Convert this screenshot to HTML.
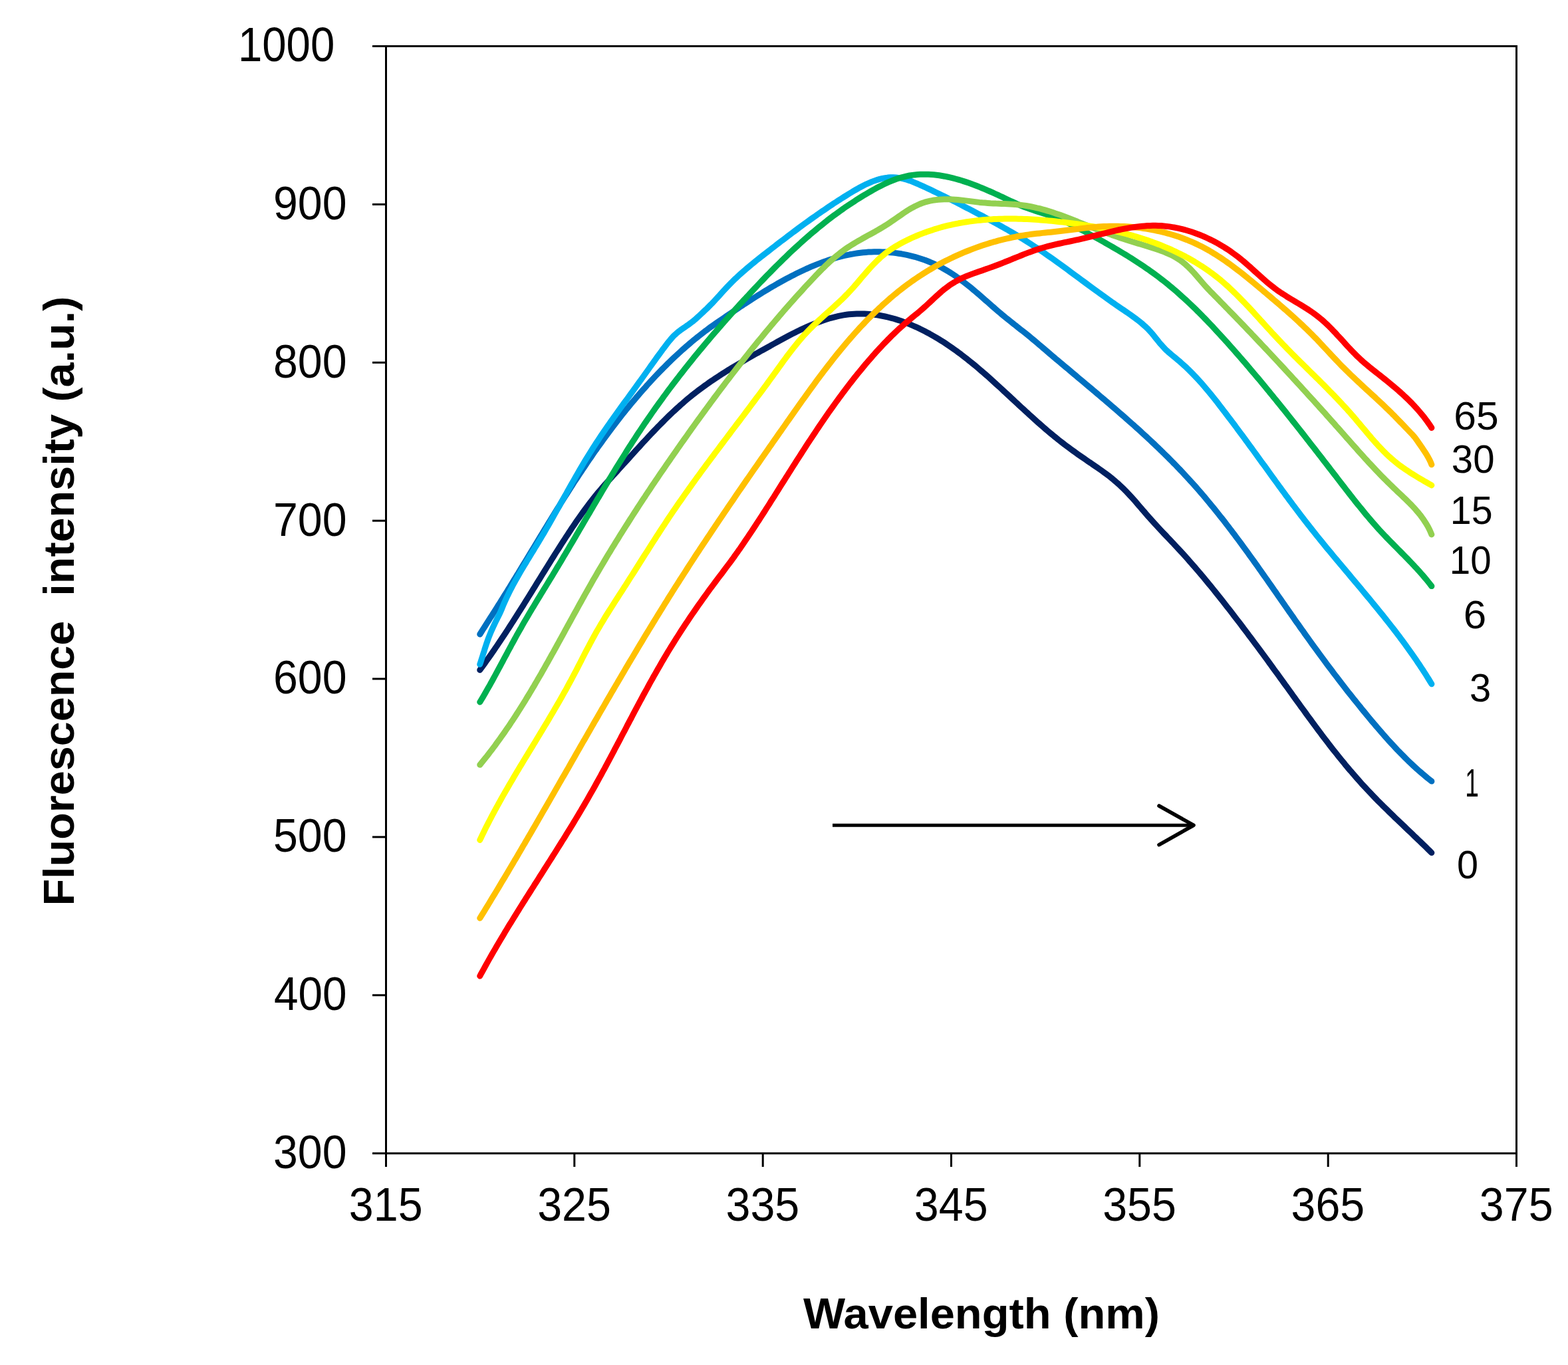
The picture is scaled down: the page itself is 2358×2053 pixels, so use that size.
<!DOCTYPE html>
<html><head><meta charset="utf-8"><title>Fluorescence intensity vs wavelength</title>
<style>html,body{margin:0;padding:0;background:#fff;}svg{display:block;}</style></head>
<body><svg width="2358" height="2053" viewBox="0 0 2358 2053" style="font-family:'Liberation Sans',Arial,Helvetica,sans-serif">
<rect width="2358" height="2053" fill="#fff"/>
<g fill="none" stroke-width="9" stroke-linecap="round" stroke-linejoin="round">
<path d="M721.7,1007.7 L724.1,1004.4 L726.5,1001.1 L728.9,997.8 L731.2,994.5 L733.6,991.2 L735.9,987.9 L738.2,984.6 L740.6,981.2 L742.9,977.9 L745.1,974.5 L747.4,971.2 L749.7,967.8 L751.9,964.5 L754.2,961.1 L756.4,957.7 L758.7,954.4 L760.9,951.0 L763.1,947.6 L765.3,944.2 L767.5,940.8 L769.7,937.4 L771.9,934.0 L774.0,930.6 L776.2,927.2 L778.4,923.8 L780.5,920.4 L782.7,917.0 L784.8,913.6 L787.0,910.2 L789.1,906.7 L791.2,903.3 L793.4,899.9 L795.5,896.5 L797.6,893.1 L799.8,889.6 L801.9,886.2 L804.0,882.8 L806.1,879.4 L808.2,875.9 L810.4,872.5 L812.5,869.1 L814.6,865.7 L816.7,862.2 L818.9,858.8 L821.0,855.4 L823.1,852.0 L825.2,848.6 L827.4,845.1 L829.5,841.7 L831.7,838.3 L833.8,834.9 L835.9,831.5 L838.1,828.1 L840.3,824.7 L842.4,821.3 L844.6,817.9 L846.8,814.5 L849.0,811.1 L851.1,807.8 L853.4,804.4 L855.6,801.0 L857.8,797.7 L860.0,794.3 L862.3,791.0 L864.5,787.7 L866.8,784.3 L869.1,781.0 L871.4,777.8 L873.7,774.5 L876.0,771.2 L878.4,768.0 L880.7,764.8 L883.1,761.6 L885.5,758.4 L887.9,755.2 L890.4,752.1 L892.8,749.0 L895.3,745.9 L897.8,742.8 L900.4,739.8 L902.9,736.8 L905.5,733.8 L908.1,730.8 L910.7,727.8 L913.4,724.9 L916.0,721.9 L918.7,719.0 L921.3,716.0 L924.0,713.1 L926.7,710.2 L929.3,707.2 L932.0,704.3 L934.7,701.3 L937.4,698.3 L940.1,695.4 L942.8,692.4 L945.5,689.4 L948.1,686.5 L950.8,683.5 L953.5,680.5 L956.2,677.5 L959.0,674.5 L961.7,671.6 L964.4,668.6 L967.1,665.6 L969.8,662.7 L972.6,659.7 L975.3,656.8 L978.1,653.8 L980.8,650.9 L983.6,648.0 L986.4,645.1 L989.2,642.2 L992.0,639.4 L994.8,636.5 L997.6,633.7 L1000.4,630.9 L1003.3,628.1 L1006.1,625.3 L1009.0,622.5 L1011.9,619.8 L1014.8,617.1 L1017.7,614.4 L1020.6,611.8 L1023.5,609.1 L1026.5,606.6 L1029.4,604.0 L1032.4,601.4 L1035.4,598.9 L1038.4,596.5 L1041.4,594.0 L1044.5,591.6 L1047.6,589.2 L1050.6,586.9 L1053.7,584.6 L1056.8,582.3 L1060.0,580.0 L1063.1,577.8 L1066.3,575.5 L1069.5,573.3 L1072.7,571.2 L1075.9,569.0 L1079.1,566.9 L1082.4,564.8 L1085.6,562.6 L1088.9,560.6 L1092.2,558.5 L1095.5,556.4 L1098.9,554.4 L1102.2,552.3 L1105.6,550.3 L1109.0,548.3 L1112.4,546.3 L1115.8,544.3 L1119.3,542.2 L1122.7,540.2 L1126.2,538.2 L1129.7,536.2 L1133.2,534.2 L1136.7,532.2 L1140.3,530.2 L1143.8,528.2 L1147.4,526.2 L1151.0,524.2 L1154.6,522.2 L1158.3,520.2 L1161.9,518.1 L1165.6,516.1 L1169.3,514.0 L1173.0,512.0 L1176.7,510.0 L1180.4,508.0 L1184.1,506.0 L1187.9,504.0 L1191.7,502.1 L1195.4,500.2 L1199.2,498.3 L1203.0,496.4 L1206.9,494.6 L1210.7,492.9 L1214.5,491.1 L1218.4,489.5 L1222.2,487.9 L1226.1,486.3 L1229.9,484.8 L1233.8,483.4 L1237.7,482.0 L1241.5,480.7 L1245.4,479.5 L1249.3,478.3 L1253.2,477.3 L1257.1,476.3 L1261.0,475.4 L1264.9,474.6 L1268.8,473.9 L1272.7,473.3 L1276.6,472.8 L1280.5,472.5 L1284.4,472.2 L1288.3,472.0 L1292.2,471.9 L1296.1,471.9 L1300.0,472.0 L1303.9,472.2 L1307.7,472.5 L1311.6,472.9 L1315.5,473.3 L1319.3,473.9 L1323.2,474.5 L1327.0,475.2 L1330.9,476.0 L1334.7,476.9 L1338.5,477.8 L1342.3,478.8 L1346.1,479.9 L1349.9,481.1 L1353.6,482.3 L1357.4,483.6 L1361.1,485.0 L1364.8,486.4 L1368.6,487.9 L1372.2,489.5 L1375.9,491.1 L1379.6,492.7 L1383.2,494.4 L1386.8,496.2 L1390.4,498.0 L1394.0,499.9 L1397.6,501.8 L1401.1,503.8 L1404.6,505.8 L1408.1,507.9 L1411.5,509.9 L1415.0,512.1 L1418.4,514.2 L1421.8,516.4 L1425.2,518.7 L1428.5,520.9 L1431.8,523.2 L1435.1,525.6 L1438.4,527.9 L1441.6,530.3 L1444.9,532.7 L1448.1,535.2 L1451.3,537.7 L1454.5,540.1 L1457.6,542.7 L1460.8,545.2 L1463.9,547.8 L1467.0,550.3 L1470.1,552.9 L1473.2,555.6 L1476.3,558.2 L1479.4,560.9 L1482.4,563.5 L1485.5,566.2 L1488.5,568.9 L1491.5,571.6 L1494.5,574.3 L1497.5,577.1 L1500.5,579.8 L1503.5,582.5 L1506.5,585.3 L1509.5,588.1 L1512.5,590.8 L1515.5,593.6 L1518.5,596.4 L1521.4,599.1 L1524.4,601.9 L1527.4,604.7 L1530.4,607.4 L1533.3,610.2 L1536.3,613.0 L1539.3,615.7 L1542.3,618.5 L1545.3,621.2 L1548.3,624.0 L1551.3,626.7 L1554.3,629.4 L1557.3,632.1 L1560.3,634.8 L1563.4,637.5 L1566.4,640.2 L1569.5,642.9 L1572.5,645.5 L1575.6,648.1 L1578.7,650.7 L1581.8,653.3 L1584.9,655.9 L1588.1,658.4 L1591.2,661.0 L1594.4,663.5 L1597.5,665.9 L1600.7,668.4 L1604.0,670.8 L1607.2,673.2 L1610.4,675.6 L1613.7,678.0 L1617.0,680.3 L1620.2,682.7 L1623.5,685.0 L1626.8,687.3 L1630.2,689.6 L1633.5,691.9 L1636.8,694.2 L1640.2,696.4 L1643.5,698.7 L1646.8,701.0 L1650.2,703.3 L1653.5,705.6 L1656.8,707.9 L1660.1,710.3 L1663.3,712.7 L1666.6,715.1 L1669.7,717.6 L1672.9,720.1 L1676.0,722.7 L1679.0,725.3 L1682.1,728.0 L1685.0,730.7 L1687.9,733.5 L1690.8,736.3 L1693.6,739.2 L1696.4,742.1 L1699.2,745.1 L1701.9,748.1 L1704.6,751.1 L1707.3,754.1 L1710.0,757.2 L1712.6,760.3 L1715.3,763.4 L1717.9,766.5 L1720.6,769.5 L1723.2,772.6 L1725.9,775.7 L1728.6,778.7 L1731.3,781.8 L1734.0,784.8 L1736.7,787.8 L1739.5,790.8 L1742.2,793.7 L1745.0,796.7 L1747.8,799.7 L1750.5,802.6 L1753.3,805.5 L1756.1,808.5 L1758.9,811.4 L1761.7,814.3 L1764.5,817.3 L1767.2,820.2 L1770.0,823.2 L1772.7,826.1 L1775.5,829.1 L1778.2,832.1 L1780.9,835.1 L1783.6,838.1 L1786.3,841.1 L1789.0,844.2 L1791.7,847.2 L1794.3,850.2 L1797.0,853.3 L1799.6,856.4 L1802.2,859.4 L1804.9,862.5 L1807.5,865.6 L1810.1,868.7 L1812.7,871.8 L1815.2,874.9 L1817.8,878.1 L1820.4,881.2 L1822.9,884.3 L1825.5,887.5 L1828.0,890.6 L1830.6,893.8 L1833.1,897.0 L1835.6,900.1 L1838.1,903.3 L1840.6,906.5 L1843.1,909.7 L1845.6,912.9 L1848.1,916.1 L1850.6,919.3 L1853.1,922.5 L1855.5,925.7 L1858.0,928.9 L1860.4,932.1 L1862.9,935.3 L1865.4,938.5 L1867.8,941.7 L1870.2,945.0 L1872.7,948.2 L1875.1,951.4 L1877.5,954.7 L1880.0,957.9 L1882.4,961.2 L1884.8,964.4 L1887.2,967.6 L1889.7,970.9 L1892.1,974.1 L1894.5,977.4 L1896.9,980.7 L1899.3,983.9 L1901.7,987.2 L1904.1,990.4 L1906.5,993.7 L1908.9,997.0 L1911.2,1000.2 L1913.6,1003.5 L1916.0,1006.8 L1918.4,1010.1 L1920.8,1013.3 L1923.2,1016.6 L1925.5,1019.9 L1927.9,1023.2 L1930.3,1026.5 L1932.7,1029.8 L1935.1,1033.0 L1937.4,1036.3 L1939.8,1039.6 L1942.2,1042.9 L1944.5,1046.2 L1946.9,1049.5 L1949.3,1052.8 L1951.7,1056.1 L1954.1,1059.4 L1956.4,1062.7 L1958.8,1065.9 L1961.2,1069.2 L1963.6,1072.5 L1966.0,1075.8 L1968.4,1079.1 L1970.8,1082.3 L1973.2,1085.6 L1975.6,1088.9 L1978.0,1092.1 L1980.4,1095.4 L1982.9,1098.7 L1985.3,1101.9 L1987.7,1105.2 L1990.2,1108.4 L1992.6,1111.6 L1995.1,1114.8 L1997.6,1118.1 L2000.0,1121.3 L2002.5,1124.5 L2005.0,1127.7 L2007.5,1130.8 L2010.1,1134.0 L2012.6,1137.2 L2015.1,1140.3 L2017.7,1143.5 L2020.3,1146.6 L2022.8,1149.8 L2025.4,1152.9 L2028.0,1156.0 L2030.6,1159.1 L2033.3,1162.1 L2035.9,1165.2 L2038.6,1168.3 L2041.2,1171.3 L2043.9,1174.3 L2046.6,1177.4 L2049.3,1180.4 L2052.1,1183.3 L2054.8,1186.3 L2057.6,1189.3 L2060.4,1192.2 L2063.2,1195.1 L2066.0,1198.1 L2068.8,1201.0 L2071.6,1203.9 L2074.5,1206.7 L2077.4,1209.6 L2080.2,1212.5 L2083.1,1215.3 L2086.0,1218.1 L2088.9,1221.0 L2091.8,1223.8 L2094.7,1226.6 L2097.6,1229.4 L2100.6,1232.2 L2103.5,1235.0 L2106.4,1237.8 L2109.3,1240.6 L2112.3,1243.4 L2115.2,1246.2 L2118.1,1249.0 L2121.1,1251.8 L2124.0,1254.6 L2126.9,1257.4 L2129.8,1260.1 L2132.7,1262.9 L2135.7,1265.7 L2138.5,1268.5 L2141.4,1271.3 L2144.3,1274.1 L2147.2,1276.9 L2150.1,1279.8 L2152.9,1282.6" stroke="#002060"/>
<path d="M721.7,954.0 L723.9,950.5 L726.0,947.1 L728.2,943.7 L730.4,940.3 L732.5,936.9 L734.7,933.5 L736.8,930.1 L739.0,926.8 L741.1,923.4 L743.2,920.1 L745.4,916.7 L747.5,913.3 L749.6,910.0 L751.8,906.6 L753.9,903.2 L756.0,899.8 L758.1,896.4 L760.2,893.0 L762.4,889.6 L764.5,886.2 L766.6,882.8 L768.7,879.3 L770.8,875.9 L772.9,872.4 L775.0,869.0 L777.1,865.5 L779.3,862.1 L781.4,858.6 L783.5,855.1 L785.6,851.6 L787.7,848.2 L789.8,844.7 L791.9,841.2 L794.0,837.7 L796.1,834.2 L798.2,830.7 L800.4,827.2 L802.5,823.7 L804.6,820.2 L806.7,816.7 L808.8,813.2 L810.9,809.7 L813.1,806.2 L815.2,802.7 L817.3,799.2 L819.5,795.7 L821.6,792.2 L823.7,788.7 L825.9,785.2 L828.0,781.7 L830.2,778.2 L832.3,774.7 L834.5,771.2 L836.6,767.7 L838.8,764.3 L841.0,760.8 L843.1,757.3 L845.3,753.8 L847.5,750.4 L849.7,746.9 L851.9,743.5 L854.1,740.0 L856.3,736.6 L858.5,733.1 L860.7,729.7 L862.9,726.2 L865.1,722.8 L867.4,719.4 L869.6,716.0 L871.9,712.6 L874.1,709.2 L876.4,705.8 L878.7,702.4 L881.0,699.0 L883.2,695.6 L885.5,692.2 L887.9,688.9 L890.2,685.5 L892.5,682.1 L894.8,678.8 L897.2,675.5 L899.5,672.1 L901.9,668.8 L904.3,665.5 L906.7,662.2 L909.1,658.9 L911.5,655.6 L913.9,652.3 L916.3,649.0 L918.8,645.7 L921.2,642.5 L923.7,639.2 L926.2,636.0 L928.7,632.8 L931.2,629.5 L933.7,626.3 L936.2,623.1 L938.8,619.9 L941.3,616.7 L943.9,613.6 L946.5,610.4 L949.1,607.2 L951.7,604.1 L954.4,601.0 L957.0,597.8 L959.7,594.7 L962.3,591.6 L965.0,588.5 L967.7,585.5 L970.5,582.4 L973.2,579.3 L976.0,576.3 L978.7,573.3 L981.5,570.3 L984.3,567.3 L987.1,564.3 L989.9,561.4 L992.8,558.4 L995.6,555.5 L998.5,552.6 L1001.4,549.7 L1004.3,546.8 L1007.2,544.0 L1010.2,541.1 L1013.1,538.3 L1016.1,535.5 L1019.1,532.7 L1022.1,530.0 L1025.1,527.2 L1028.2,524.5 L1031.2,521.8 L1034.3,519.2 L1037.4,516.5 L1040.5,513.9 L1043.6,511.3 L1046.8,508.8 L1049.9,506.2 L1053.1,503.7 L1056.3,501.2 L1059.5,498.7 L1062.8,496.3 L1066.0,493.9 L1069.3,491.5 L1072.6,489.2 L1076.0,486.8 L1079.3,484.5 L1082.6,482.2 L1086.0,479.9 L1089.3,477.6 L1092.7,475.3 L1096.1,473.0 L1099.5,470.7 L1102.8,468.5 L1106.2,466.2 L1109.6,463.9 L1113.0,461.6 L1116.4,459.4 L1119.8,457.1 L1123.3,454.9 L1126.7,452.7 L1130.1,450.4 L1133.6,448.2 L1137.1,446.0 L1140.5,443.9 L1144.0,441.7 L1147.5,439.5 L1151.0,437.4 L1154.5,435.3 L1158.0,433.2 L1161.5,431.1 L1165.1,429.1 L1168.6,427.0 L1172.2,425.0 L1175.8,423.0 L1179.4,421.0 L1183.0,419.1 L1186.6,417.2 L1190.2,415.3 L1193.9,413.4 L1197.5,411.6 L1201.2,409.8 L1204.9,408.0 L1208.6,406.2 L1212.3,404.5 L1216.0,402.9 L1219.8,401.2 L1223.6,399.6 L1227.3,398.1 L1231.1,396.6 L1234.9,395.2 L1238.7,393.8 L1242.6,392.4 L1246.4,391.1 L1250.3,389.9 L1254.2,388.7 L1258.1,387.5 L1262.0,386.5 L1265.9,385.5 L1269.9,384.5 L1273.8,383.6 L1277.8,382.8 L1281.8,382.1 L1285.8,381.4 L1289.8,380.8 L1293.9,380.3 L1297.9,379.8 L1302.0,379.4 L1306.1,379.1 L1310.2,378.9 L1314.3,378.8 L1318.5,378.7 L1322.6,378.8 L1326.8,378.9 L1330.9,379.1 L1335.1,379.3 L1339.2,379.7 L1343.3,380.1 L1347.4,380.6 L1351.5,381.2 L1355.6,381.8 L1359.7,382.6 L1363.7,383.4 L1367.7,384.3 L1371.7,385.3 L1375.7,386.3 L1379.6,387.5 L1383.5,388.7 L1387.4,390.0 L1391.2,391.3 L1395.0,392.8 L1398.8,394.3 L1402.5,395.9 L1406.2,397.6 L1409.9,399.3 L1413.5,401.1 L1417.1,403.0 L1420.6,405.0 L1424.1,407.0 L1427.6,409.1 L1431.0,411.3 L1434.4,413.5 L1437.8,415.8 L1441.1,418.2 L1444.4,420.6 L1447.7,423.0 L1450.9,425.5 L1454.1,428.0 L1457.3,430.5 L1460.5,433.1 L1463.6,435.7 L1466.8,438.4 L1469.9,441.0 L1473.0,443.7 L1476.1,446.4 L1479.2,449.1 L1482.2,451.8 L1485.3,454.4 L1488.4,457.1 L1491.4,459.8 L1494.5,462.5 L1497.5,465.1 L1500.6,467.8 L1503.7,470.4 L1506.7,473.0 L1509.8,475.5 L1512.9,478.1 L1516.0,480.6 L1519.1,483.0 L1522.2,485.5 L1525.3,488.0 L1528.5,490.4 L1531.6,492.9 L1534.7,495.4 L1537.8,497.8 L1541.0,500.3 L1544.1,502.8 L1547.2,505.3 L1550.3,507.9 L1553.4,510.5 L1556.5,513.0 L1559.6,515.6 L1562.7,518.3 L1565.8,520.9 L1568.8,523.5 L1571.9,526.2 L1575.0,528.8 L1578.1,531.5 L1581.2,534.1 L1584.3,536.7 L1587.4,539.4 L1590.6,542.0 L1593.7,544.6 L1596.8,547.2 L1599.9,549.9 L1603.0,552.5 L1606.2,555.1 L1609.3,557.7 L1612.4,560.4 L1615.5,563.0 L1618.7,565.6 L1621.8,568.3 L1624.9,570.9 L1628.1,573.5 L1631.2,576.1 L1634.3,578.8 L1637.5,581.4 L1640.6,584.0 L1643.7,586.7 L1646.9,589.3 L1650.0,592.0 L1653.1,594.6 L1656.2,597.3 L1659.4,599.9 L1662.5,602.6 L1665.6,605.2 L1668.7,607.9 L1671.8,610.6 L1674.9,613.2 L1678.0,615.9 L1681.1,618.6 L1684.2,621.3 L1687.3,624.0 L1690.4,626.7 L1693.4,629.4 L1696.5,632.1 L1699.6,634.8 L1702.6,637.5 L1705.7,640.2 L1708.7,643.0 L1711.8,645.7 L1714.8,648.4 L1717.8,651.2 L1720.8,654.0 L1723.8,656.7 L1726.8,659.5 L1729.8,662.3 L1732.8,665.1 L1735.8,667.9 L1738.7,670.7 L1741.7,673.5 L1744.6,676.4 L1747.6,679.2 L1750.5,682.1 L1753.4,684.9 L1756.3,687.8 L1759.2,690.7 L1762.1,693.6 L1764.9,696.5 L1767.8,699.4 L1770.6,702.3 L1773.4,705.3 L1776.3,708.2 L1779.1,711.2 L1781.8,714.2 L1784.6,717.2 L1787.4,720.2 L1790.1,723.2 L1792.9,726.2 L1795.6,729.2 L1798.3,732.3 L1801.0,735.4 L1803.6,738.4 L1806.3,741.5 L1809.0,744.6 L1811.6,747.7 L1814.2,750.8 L1816.8,754.0 L1819.4,757.1 L1822.0,760.3 L1824.6,763.4 L1827.2,766.6 L1829.7,769.8 L1832.3,773.0 L1834.8,776.2 L1837.4,779.4 L1839.9,782.6 L1842.4,785.8 L1844.9,789.1 L1847.4,792.3 L1849.9,795.6 L1852.4,798.8 L1854.8,802.1 L1857.3,805.3 L1859.7,808.6 L1862.2,811.9 L1864.6,815.2 L1867.1,818.5 L1869.5,821.8 L1871.9,825.1 L1874.3,828.4 L1876.7,831.7 L1879.1,835.1 L1881.5,838.4 L1883.9,841.7 L1886.3,845.0 L1888.7,848.4 L1891.1,851.7 L1893.4,855.1 L1895.8,858.4 L1898.2,861.8 L1900.5,865.1 L1902.9,868.5 L1905.3,871.8 L1907.6,875.2 L1910.0,878.6 L1912.3,881.9 L1914.7,885.3 L1917.0,888.7 L1919.4,892.0 L1921.7,895.4 L1924.1,898.8 L1926.4,902.1 L1928.7,905.5 L1931.1,908.9 L1933.4,912.2 L1935.8,915.6 L1938.1,919.0 L1940.5,922.3 L1942.8,925.7 L1945.2,929.0 L1947.5,932.4 L1949.9,935.8 L1952.3,939.1 L1954.6,942.5 L1957.0,945.8 L1959.4,949.1 L1961.7,952.5 L1964.1,955.8 L1966.5,959.1 L1968.9,962.5 L1971.3,965.8 L1973.6,969.1 L1976.0,972.4 L1978.4,975.7 L1980.9,979.0 L1983.3,982.3 L1985.7,985.6 L1988.1,988.9 L1990.5,992.2 L1993.0,995.5 L1995.4,998.8 L1997.8,1002.0 L2000.3,1005.3 L2002.8,1008.5 L2005.2,1011.8 L2007.7,1015.1 L2010.2,1018.3 L2012.6,1021.5 L2015.1,1024.8 L2017.6,1028.0 L2020.1,1031.2 L2022.6,1034.4 L2025.1,1037.7 L2027.6,1040.9 L2030.2,1044.1 L2032.7,1047.3 L2035.2,1050.5 L2037.8,1053.7 L2040.3,1056.8 L2042.9,1060.0 L2045.5,1063.2 L2048.0,1066.4 L2050.6,1069.5 L2053.2,1072.7 L2055.8,1075.8 L2058.4,1079.0 L2061.0,1082.1 L2063.6,1085.3 L2066.3,1088.4 L2068.9,1091.5 L2071.6,1094.6 L2074.2,1097.7 L2076.9,1100.8 L2079.6,1103.9 L2082.3,1107.0 L2085.0,1110.0 L2087.7,1113.1 L2090.5,1116.1 L2093.3,1119.1 L2096.0,1122.1 L2098.8,1125.1 L2101.6,1128.1 L2104.5,1131.0 L2107.3,1133.9 L2110.2,1136.8 L2113.1,1139.7 L2116.0,1142.6 L2118.9,1145.4 L2121.9,1148.3 L2124.9,1151.1 L2127.9,1153.8 L2130.9,1156.6 L2134.0,1159.3 L2137.1,1162.0 L2140.2,1164.7 L2143.3,1167.3 L2146.5,1170.0 L2149.7,1172.5 L2152.9,1175.1" stroke="#0070C0"/>
<path d="M721.7,999.2 L723.1,995.0 L724.4,990.9 L725.7,986.8 L726.9,982.8 L728.2,978.8 L729.4,974.8 L730.7,970.9 L732.0,966.9 L733.4,962.9 L734.9,958.8 L736.5,954.8 L738.2,950.6 L740.1,946.4 L742.0,942.2 L743.8,938.3 L745.6,934.6 L747.2,931.4 L748.6,928.5 L750.0,925.9 L751.3,923.2 L752.6,920.3 L754.1,917.0 L755.5,913.4 L757.1,909.6 L758.7,905.9 L760.4,902.2 L762.1,898.4 L763.9,894.7 L765.7,891.0 L767.6,887.3 L769.6,883.6 L771.5,879.8 L773.6,876.1 L775.6,872.4 L777.7,868.7 L779.8,865.0 L782.0,861.3 L784.1,857.6 L786.3,853.9 L788.5,850.2 L790.8,846.5 L793.0,842.8 L795.3,839.1 L797.5,835.4 L799.8,831.7 L802.1,828.0 L804.3,824.3 L806.6,820.6 L808.8,816.9 L811.1,813.2 L813.3,809.5 L815.5,805.8 L817.7,802.1 L819.9,798.3 L822.0,794.6 L824.2,790.9 L826.3,787.2 L828.4,783.5 L830.5,779.7 L832.6,776.0 L834.7,772.3 L836.8,768.6 L838.9,764.9 L841.0,761.2 L843.1,757.4 L845.1,753.7 L847.2,750.0 L849.3,746.3 L851.4,742.6 L853.4,738.9 L855.5,735.2 L857.6,731.5 L859.7,727.8 L861.8,724.1 L863.9,720.5 L866.0,716.8 L868.1,713.1 L870.2,709.4 L872.3,705.8 L874.5,702.1 L876.6,698.5 L878.8,694.8 L881.0,691.2 L883.2,687.6 L885.4,684.0 L887.7,680.4 L889.9,676.8 L892.2,673.2 L894.5,669.6 L896.8,666.0 L899.2,662.4 L901.5,658.9 L903.9,655.3 L906.3,651.8 L908.7,648.2 L911.1,644.7 L913.6,641.2 L916.0,637.7 L918.5,634.2 L921.0,630.7 L923.5,627.2 L926.0,623.7 L928.5,620.2 L931.0,616.7 L933.5,613.2 L936.0,609.7 L938.5,606.2 L941.1,602.7 L943.6,599.3 L946.1,595.8 L948.7,592.3 L951.2,588.8 L953.7,585.3 L956.2,581.9 L958.7,578.4 L961.2,574.9 L963.8,571.4 L966.2,568.0 L968.7,564.5 L971.2,561.0 L973.7,557.5 L976.2,554.0 L978.6,550.5 L981.1,547.1 L983.6,543.6 L986.1,540.1 L988.5,536.7 L991.1,533.2 L993.6,529.8 L996.1,526.3 L998.7,522.9 L1001.3,519.5 L1003.9,516.1 L1006.5,512.8 L1009.3,509.5 L1012.1,506.3 L1015.2,503.3 L1018.3,500.5 L1021.7,497.8 L1025.2,495.2 L1028.8,492.8 L1032.3,490.3 L1035.9,487.9 L1039.3,485.3 L1042.6,482.8 L1045.8,480.1 L1048.8,477.4 L1051.7,474.7 L1054.6,472.0 L1057.4,469.4 L1060.1,466.8 L1062.9,464.2 L1065.6,461.5 L1068.3,458.8 L1071.0,456.1 L1073.7,453.2 L1076.4,450.3 L1079.1,447.4 L1081.8,444.4 L1084.6,441.3 L1087.3,438.3 L1090.1,435.2 L1093.0,432.1 L1095.9,429.1 L1098.8,426.1 L1101.8,423.1 L1104.9,420.1 L1108.0,417.2 L1111.1,414.3 L1114.3,411.4 L1117.5,408.6 L1120.7,405.8 L1124.0,402.9 L1127.3,400.2 L1130.7,397.4 L1134.0,394.7 L1137.4,391.9 L1140.8,389.2 L1144.2,386.5 L1147.6,383.9 L1151.0,381.2 L1154.4,378.6 L1157.8,375.9 L1161.2,373.3 L1164.6,370.7 L1168.0,368.0 L1171.4,365.4 L1174.8,362.8 L1178.2,360.3 L1181.6,357.7 L1184.9,355.1 L1188.3,352.6 L1191.7,350.0 L1195.1,347.5 L1198.5,345.0 L1201.9,342.4 L1205.3,339.9 L1208.7,337.4 L1212.2,334.9 L1215.6,332.5 L1219.0,330.0 L1222.5,327.5 L1226.0,325.1 L1229.4,322.6 L1232.9,320.2 L1236.4,317.8 L1240.0,315.4 L1243.5,313.0 L1247.1,310.6 L1250.6,308.2 L1254.2,305.8 L1257.9,303.5 L1261.5,301.1 L1265.2,298.8 L1268.9,296.4 L1272.6,294.1 L1276.3,291.8 L1280.1,289.5 L1283.9,287.2 L1287.7,285.0 L1291.5,282.8 L1295.4,280.7 L1299.2,278.7 L1303.1,276.8 L1307.1,275.1 L1311.0,273.4 L1315.0,271.9 L1318.9,270.6 L1322.9,269.4 L1326.9,268.4 L1331.0,267.7 L1335.0,267.1 L1339.1,266.8 L1343.1,266.8 L1347.2,267.0 L1351.3,267.4 L1355.4,268.2 L1359.5,269.1 L1363.6,270.3 L1367.7,271.6 L1371.8,273.1 L1375.9,274.8 L1380.0,276.5 L1384.0,278.3 L1388.1,280.1 L1392.1,282.0 L1396.1,283.9 L1400.0,285.7 L1403.9,287.6 L1407.8,289.5 L1411.7,291.4 L1415.6,293.3 L1419.5,295.1 L1423.3,297.0 L1427.1,298.9 L1430.9,300.8 L1434.7,302.7 L1438.5,304.6 L1442.2,306.6 L1446.0,308.5 L1449.7,310.4 L1453.5,312.4 L1457.2,314.3 L1461.0,316.2 L1464.7,318.2 L1468.4,320.2 L1472.2,322.2 L1475.9,324.1 L1479.7,326.1 L1483.4,328.2 L1487.2,330.2 L1491.0,332.2 L1494.7,334.3 L1498.5,336.3 L1502.2,338.4 L1506.0,340.5 L1509.7,342.6 L1513.5,344.7 L1517.2,346.9 L1520.9,349.0 L1524.7,351.2 L1528.4,353.4 L1532.1,355.6 L1535.7,357.9 L1539.4,360.1 L1543.0,362.4 L1546.6,364.7 L1550.2,367.0 L1553.8,369.4 L1557.4,371.7 L1561.0,374.1 L1564.5,376.5 L1568.0,378.9 L1571.6,381.3 L1575.1,383.8 L1578.6,386.2 L1582.1,388.7 L1585.6,391.2 L1589.0,393.7 L1592.5,396.2 L1596.0,398.7 L1599.4,401.2 L1602.9,403.7 L1606.3,406.2 L1609.8,408.8 L1613.2,411.3 L1616.6,413.8 L1620.1,416.4 L1623.5,418.9 L1626.9,421.5 L1630.4,424.0 L1633.8,426.5 L1637.3,429.1 L1640.7,431.6 L1644.1,434.1 L1647.6,436.7 L1651.1,439.2 L1654.5,441.7 L1658.0,444.2 L1661.5,446.7 L1664.9,449.2 L1668.4,451.7 L1671.9,454.2 L1675.5,456.6 L1679.0,459.1 L1682.5,461.5 L1686.1,463.9 L1689.6,466.3 L1693.2,468.7 L1696.7,471.1 L1700.3,473.6 L1703.7,476.1 L1707.2,478.6 L1710.6,481.2 L1713.9,483.8 L1717.2,486.5 L1720.4,489.3 L1723.6,492.2 L1726.6,495.1 L1729.5,498.2 L1732.3,501.4 L1735.0,504.7 L1737.7,508.1 L1740.4,511.4 L1743.1,514.8 L1745.9,518.1 L1748.8,521.3 L1751.7,524.4 L1754.8,527.4 L1758.0,530.3 L1761.3,533.1 L1764.6,535.9 L1767.9,538.6 L1771.2,541.4 L1774.5,544.1 L1777.7,547.0 L1780.9,549.8 L1784.1,552.7 L1787.2,555.7 L1790.2,558.7 L1793.2,561.7 L1796.2,564.8 L1799.1,567.9 L1802.0,571.0 L1804.9,574.2 L1807.7,577.3 L1810.5,580.6 L1813.2,583.8 L1816.0,587.1 L1818.7,590.3 L1821.4,593.6 L1824.1,597.0 L1826.7,600.3 L1829.4,603.6 L1832.0,607.0 L1834.6,610.4 L1837.2,613.8 L1839.8,617.2 L1842.4,620.5 L1845.0,624.0 L1847.6,627.4 L1850.2,630.8 L1852.7,634.2 L1855.3,637.6 L1857.9,641.0 L1860.4,644.5 L1863.0,647.9 L1865.5,651.3 L1868.1,654.8 L1870.6,658.2 L1873.2,661.7 L1875.7,665.1 L1878.2,668.6 L1880.7,672.1 L1883.3,675.5 L1885.8,679.0 L1888.3,682.4 L1890.8,685.9 L1893.3,689.4 L1895.8,692.8 L1898.3,696.3 L1900.9,699.7 L1903.4,703.2 L1905.9,706.7 L1908.4,710.1 L1910.9,713.6 L1913.4,717.1 L1915.9,720.5 L1918.4,724.0 L1920.9,727.4 L1923.4,730.9 L1926.0,734.3 L1928.5,737.8 L1931.0,741.2 L1933.5,744.7 L1936.1,748.1 L1938.6,751.5 L1941.2,754.9 L1943.7,758.4 L1946.3,761.8 L1948.8,765.2 L1951.4,768.6 L1954.0,772.0 L1956.6,775.4 L1959.2,778.8 L1961.8,782.2 L1964.4,785.6 L1967.0,788.9 L1969.7,792.3 L1972.3,795.6 L1975.0,799.0 L1977.6,802.3 L1980.3,805.7 L1983.0,809.0 L1985.7,812.3 L1988.4,815.6 L1991.1,819.0 L1993.8,822.3 L1996.5,825.6 L1999.3,828.9 L2002.0,832.2 L2004.7,835.5 L2007.5,838.8 L2010.2,842.0 L2013.0,845.3 L2015.7,848.6 L2018.5,851.9 L2021.2,855.2 L2024.0,858.5 L2026.7,861.7 L2029.5,865.0 L2032.2,868.3 L2035.0,871.6 L2037.7,874.9 L2040.5,878.2 L2043.2,881.4 L2046.0,884.7 L2048.7,888.0 L2051.5,891.3 L2054.2,894.6 L2056.9,897.9 L2059.7,901.2 L2062.4,904.5 L2065.1,907.8 L2067.8,911.1 L2070.5,914.4 L2073.2,917.8 L2075.9,921.1 L2078.6,924.4 L2081.3,927.8 L2083.9,931.1 L2086.6,934.5 L2089.2,937.8 L2091.9,941.2 L2094.5,944.6 L2097.1,947.9 L2099.7,951.3 L2102.3,954.7 L2104.9,958.1 L2107.4,961.6 L2110.0,965.0 L2112.5,968.4 L2115.0,971.9 L2117.5,975.3 L2120.0,978.8 L2122.5,982.3 L2124.9,985.8 L2127.4,989.3 L2129.8,992.8 L2132.2,996.4 L2134.6,999.9 L2136.9,1003.5 L2139.3,1007.0 L2141.6,1010.6 L2143.9,1014.2 L2146.2,1017.8 L2148.5,1021.5 L2150.7,1025.1 L2152.9,1028.8" stroke="#00B0F0"/>
<path d="M721.7,1056.0 L723.8,1052.5 L726.0,1048.9 L728.1,1045.3 L730.1,1041.7 L732.2,1038.1 L734.2,1034.5 L736.3,1030.9 L738.3,1027.3 L740.3,1023.7 L742.3,1020.0 L744.3,1016.4 L746.3,1012.7 L748.2,1009.1 L750.2,1005.4 L752.2,1001.8 L754.1,998.1 L756.1,994.5 L758.0,990.8 L760.0,987.1 L762.0,983.5 L763.9,979.8 L765.9,976.1 L767.9,972.5 L769.8,968.8 L771.8,965.2 L773.8,961.5 L775.8,957.9 L777.8,954.2 L779.9,950.6 L781.9,947.0 L784.0,943.4 L786.0,939.7 L788.1,936.1 L790.2,932.5 L792.3,928.9 L794.4,925.4 L796.5,921.8 L798.7,918.2 L800.8,914.6 L803.0,911.1 L805.1,907.5 L807.3,903.9 L809.4,900.4 L811.6,896.8 L813.8,893.2 L816.0,889.7 L818.1,886.1 L820.3,882.6 L822.5,879.0 L824.7,875.4 L826.8,871.9 L829.0,868.3 L831.2,864.8 L833.3,861.2 L835.5,857.6 L837.6,854.0 L839.8,850.5 L841.9,846.9 L844.1,843.3 L846.2,839.7 L848.3,836.1 L850.5,832.6 L852.6,829.0 L854.7,825.4 L856.8,821.8 L858.9,818.2 L861.1,814.6 L863.2,811.0 L865.3,807.4 L867.4,803.8 L869.5,800.2 L871.6,796.6 L873.7,793.0 L875.8,789.4 L877.9,785.8 L880.0,782.2 L882.1,778.6 L884.3,775.0 L886.4,771.4 L888.5,767.8 L890.6,764.2 L892.7,760.6 L894.8,757.0 L896.9,753.4 L899.0,749.8 L901.2,746.3 L903.3,742.7 L905.4,739.1 L907.5,735.5 L909.7,731.9 L911.8,728.4 L914.0,724.8 L916.1,721.2 L918.3,717.7 L920.4,714.1 L922.6,710.5 L924.7,707.0 L926.9,703.4 L929.1,699.9 L931.3,696.4 L933.5,692.8 L935.7,689.3 L937.9,685.8 L940.1,682.3 L942.3,678.7 L944.5,675.2 L946.7,671.7 L949.0,668.2 L951.2,664.7 L953.5,661.3 L955.7,657.8 L958.0,654.3 L960.3,650.8 L962.6,647.4 L964.9,643.9 L967.2,640.5 L969.5,637.1 L971.9,633.6 L974.2,630.2 L976.6,626.8 L978.9,623.4 L981.3,620.0 L983.7,616.6 L986.1,613.2 L988.5,609.8 L990.9,606.5 L993.4,603.1 L995.8,599.8 L998.2,596.4 L1000.7,593.1 L1003.2,589.7 L1005.6,586.4 L1008.1,583.1 L1010.6,579.8 L1013.1,576.5 L1015.6,573.2 L1018.2,569.9 L1020.7,566.6 L1023.2,563.3 L1025.8,560.1 L1028.4,556.8 L1030.9,553.5 L1033.5,550.3 L1036.1,547.0 L1038.7,543.8 L1041.3,540.6 L1043.9,537.3 L1046.5,534.1 L1049.2,530.9 L1051.8,527.7 L1054.5,524.5 L1057.1,521.3 L1059.8,518.1 L1062.5,514.9 L1065.1,511.8 L1067.8,508.6 L1070.5,505.4 L1073.2,502.3 L1076.0,499.1 L1078.7,496.0 L1081.4,492.8 L1084.1,489.7 L1086.9,486.6 L1089.6,483.4 L1092.4,480.3 L1095.2,477.2 L1097.9,474.1 L1100.7,471.0 L1103.5,467.9 L1106.3,464.8 L1109.1,461.7 L1111.9,458.6 L1114.7,455.5 L1117.5,452.4 L1120.4,449.4 L1123.2,446.3 L1126.1,443.3 L1128.9,440.2 L1131.8,437.1 L1134.6,434.1 L1137.5,431.1 L1140.4,428.0 L1143.2,425.0 L1146.1,422.0 L1149.0,419.0 L1151.9,415.9 L1154.8,412.9 L1157.8,410.0 L1160.7,407.0 L1163.6,404.0 L1166.6,401.0 L1169.5,398.1 L1172.5,395.2 L1175.5,392.2 L1178.5,389.3 L1181.5,386.4 L1184.5,383.5 L1187.5,380.6 L1190.5,377.8 L1193.6,374.9 L1196.6,372.1 L1199.7,369.3 L1202.8,366.5 L1205.9,363.7 L1209.0,360.9 L1212.1,358.2 L1215.2,355.5 L1218.4,352.7 L1221.5,350.0 L1224.7,347.4 L1227.9,344.7 L1231.1,342.1 L1234.3,339.5 L1237.5,336.9 L1240.8,334.3 L1244.0,331.7 L1247.3,329.2 L1250.6,326.7 L1253.9,324.2 L1257.2,321.8 L1260.6,319.3 L1264.0,316.9 L1267.3,314.5 L1270.7,312.1 L1274.2,309.8 L1277.6,307.5 L1281.1,305.2 L1284.6,302.9 L1288.1,300.6 L1291.6,298.4 L1295.2,296.1 L1298.8,293.9 L1302.4,291.8 L1306.1,289.6 L1309.8,287.5 L1313.5,285.4 L1317.2,283.3 L1321.0,281.3 L1324.7,279.4 L1328.5,277.5 L1332.4,275.7 L1336.2,273.9 L1340.1,272.3 L1344.0,270.8 L1347.9,269.3 L1351.8,268.0 L1355.8,266.8 L1359.8,265.8 L1363.7,264.8 L1367.7,264.0 L1371.8,263.4 L1375.8,262.9 L1379.8,262.5 L1383.9,262.3 L1387.9,262.2 L1392.0,262.2 L1396.1,262.3 L1400.2,262.5 L1404.3,262.8 L1408.4,263.3 L1412.5,263.8 L1416.6,264.5 L1420.7,265.2 L1424.7,266.0 L1428.8,266.9 L1432.9,267.9 L1437.0,269.0 L1441.1,270.1 L1445.1,271.3 L1449.2,272.6 L1453.2,273.9 L1457.3,275.3 L1461.3,276.8 L1465.3,278.2 L1469.3,279.8 L1473.3,281.4 L1477.2,283.0 L1481.2,284.6 L1485.1,286.3 L1489.0,288.0 L1492.8,289.7 L1496.7,291.5 L1500.5,293.2 L1504.3,295.0 L1508.0,296.7 L1511.8,298.5 L1515.5,300.3 L1519.2,302.0 L1522.9,303.7 L1526.6,305.4 L1530.3,307.1 L1534.0,308.7 L1537.8,310.2 L1541.6,311.7 L1545.4,313.1 L1549.3,314.5 L1553.2,315.8 L1557.2,317.1 L1561.1,318.4 L1565.1,319.7 L1569.0,320.9 L1573.0,322.2 L1577.0,323.5 L1580.9,324.9 L1584.9,326.3 L1588.8,327.7 L1592.7,329.3 L1596.5,330.8 L1600.3,332.5 L1604.1,334.3 L1607.9,336.1 L1611.6,337.9 L1615.3,339.8 L1619.0,341.7 L1622.7,343.7 L1626.3,345.7 L1630.0,347.6 L1633.7,349.6 L1637.4,351.6 L1641.1,353.6 L1644.7,355.6 L1648.4,357.6 L1652.1,359.6 L1655.7,361.6 L1659.4,363.7 L1663.0,365.7 L1666.7,367.8 L1670.3,369.9 L1673.9,372.0 L1677.5,374.1 L1681.1,376.2 L1684.7,378.3 L1688.3,380.5 L1691.9,382.6 L1695.4,384.8 L1698.9,387.0 L1702.5,389.2 L1706.0,391.5 L1709.4,393.7 L1712.9,396.0 L1716.3,398.3 L1719.8,400.6 L1723.2,402.9 L1726.6,405.2 L1729.9,407.6 L1733.3,410.0 L1736.6,412.4 L1739.9,414.8 L1743.1,417.3 L1746.4,419.8 L1749.6,422.3 L1752.8,424.8 L1755.9,427.3 L1759.1,429.9 L1762.2,432.5 L1765.3,435.1 L1768.3,437.7 L1771.4,440.4 L1774.4,443.1 L1777.4,445.8 L1780.4,448.5 L1783.4,451.2 L1786.4,454.0 L1789.3,456.7 L1792.2,459.5 L1795.1,462.3 L1798.0,465.1 L1800.9,468.0 L1803.8,470.8 L1806.6,473.7 L1809.5,476.6 L1812.3,479.5 L1815.1,482.4 L1817.9,485.3 L1820.7,488.3 L1823.5,491.2 L1826.3,494.2 L1829.0,497.2 L1831.8,500.2 L1834.6,503.2 L1837.3,506.2 L1840.1,509.2 L1842.8,512.2 L1845.6,515.3 L1848.3,518.4 L1851.0,521.4 L1853.8,524.5 L1856.5,527.6 L1859.2,530.7 L1861.9,533.8 L1864.6,536.9 L1867.3,540.0 L1870.1,543.2 L1872.8,546.3 L1875.5,549.5 L1878.2,552.6 L1880.8,555.8 L1883.5,559.0 L1886.2,562.1 L1888.9,565.3 L1891.6,568.5 L1894.3,571.7 L1896.9,574.9 L1899.6,578.2 L1902.3,581.4 L1904.9,584.6 L1907.6,587.8 L1910.2,591.1 L1912.9,594.3 L1915.5,597.6 L1918.2,600.8 L1920.8,604.1 L1923.5,607.4 L1926.1,610.6 L1928.7,613.9 L1931.4,617.2 L1934.0,620.4 L1936.6,623.7 L1939.2,627.0 L1941.8,630.3 L1944.4,633.6 L1947.1,636.9 L1949.7,640.2 L1952.3,643.5 L1954.9,646.8 L1957.5,650.1 L1960.1,653.4 L1962.7,656.7 L1965.2,660.0 L1967.8,663.3 L1970.4,666.7 L1973.0,670.0 L1975.6,673.3 L1978.2,676.6 L1980.7,679.9 L1983.3,683.2 L1985.9,686.5 L1988.4,689.8 L1991.0,693.2 L1993.6,696.5 L1996.1,699.8 L1998.7,703.1 L2001.2,706.4 L2003.8,709.7 L2006.3,713.0 L2008.9,716.3 L2011.4,719.6 L2013.9,722.9 L2016.5,726.2 L2019.0,729.5 L2021.6,732.8 L2024.1,736.1 L2026.6,739.3 L2029.2,742.6 L2031.7,745.9 L2034.3,749.1 L2036.8,752.4 L2039.4,755.6 L2042.0,758.8 L2044.6,762.0 L2047.2,765.2 L2049.8,768.4 L2052.4,771.6 L2055.0,774.8 L2057.7,777.9 L2060.3,781.0 L2063.0,784.2 L2065.7,787.3 L2068.4,790.3 L2071.2,793.4 L2073.9,796.5 L2076.7,799.5 L2079.5,802.5 L2082.3,805.5 L2085.2,808.5 L2088.0,811.4 L2090.9,814.4 L2093.8,817.3 L2096.7,820.2 L2099.6,823.2 L2102.5,826.1 L2105.4,829.0 L2108.3,832.0 L2111.2,834.9 L2114.1,837.9 L2117.0,840.8 L2119.9,843.8 L2122.7,846.8 L2125.6,849.8 L2128.4,852.9 L2131.3,855.9 L2134.1,859.0 L2136.8,862.1 L2139.6,865.3 L2142.3,868.5 L2145.0,871.7 L2147.7,875.0 L2150.3,878.3 L2152.9,881.6" stroke="#00B050"/>
<path d="M721.7,1150.3 L724.3,1147.1 L726.9,1143.9 L729.5,1140.7 L732.1,1137.5 L734.6,1134.2 L737.1,1130.9 L739.6,1127.7 L742.1,1124.4 L744.6,1121.1 L747.0,1117.7 L749.4,1114.4 L751.8,1111.1 L754.2,1107.7 L756.6,1104.3 L759.0,1101.0 L761.3,1097.6 L763.6,1094.2 L766.0,1090.8 L768.2,1087.3 L770.5,1083.9 L772.8,1080.5 L775.1,1077.0 L777.3,1073.5 L779.5,1070.1 L781.7,1066.6 L783.9,1063.1 L786.1,1059.6 L788.3,1056.1 L790.5,1052.6 L792.6,1049.0 L794.8,1045.5 L796.9,1042.0 L799.0,1038.4 L801.1,1034.9 L803.3,1031.3 L805.3,1027.7 L807.4,1024.2 L809.5,1020.6 L811.6,1017.0 L813.7,1013.4 L815.7,1009.8 L817.8,1006.2 L819.8,1002.6 L821.8,999.0 L823.9,995.4 L825.9,991.8 L827.9,988.2 L829.9,984.5 L832.0,980.9 L834.0,977.3 L836.0,973.7 L838.0,970.0 L840.0,966.4 L842.0,962.8 L844.0,959.1 L846.0,955.5 L848.0,951.9 L849.9,948.2 L851.9,944.6 L853.9,941.0 L855.9,937.3 L857.9,933.7 L859.9,930.1 L861.9,926.4 L863.9,922.8 L865.9,919.2 L867.9,915.6 L869.9,911.9 L871.9,908.3 L873.9,904.7 L875.9,901.1 L877.9,897.5 L879.9,893.9 L882.0,890.3 L884.0,886.7 L886.0,883.1 L888.1,879.5 L890.1,875.9 L892.1,872.3 L894.2,868.8 L896.3,865.2 L898.3,861.6 L900.4,858.1 L902.5,854.5 L904.6,851.0 L906.7,847.4 L908.8,843.9 L910.9,840.4 L913.0,836.8 L915.1,833.3 L917.3,829.8 L919.4,826.3 L921.5,822.8 L923.7,819.3 L925.8,815.8 L928.0,812.3 L930.2,808.8 L932.3,805.3 L934.5,801.8 L936.7,798.4 L938.9,794.9 L941.1,791.4 L943.3,788.0 L945.5,784.5 L947.7,781.0 L949.9,777.6 L952.1,774.1 L954.3,770.7 L956.6,767.2 L958.8,763.8 L961.0,760.4 L963.3,756.9 L965.5,753.5 L967.8,750.1 L970.1,746.7 L972.3,743.2 L974.6,739.8 L976.9,736.4 L979.1,733.0 L981.4,729.6 L983.7,726.2 L986.0,722.8 L988.3,719.4 L990.6,716.0 L992.9,712.6 L995.2,709.2 L997.6,705.8 L999.9,702.5 L1002.2,699.1 L1004.5,695.7 L1006.9,692.3 L1009.2,688.9 L1011.6,685.6 L1013.9,682.2 L1016.3,678.8 L1018.6,675.4 L1021.0,672.1 L1023.4,668.7 L1025.7,665.3 L1028.1,662.0 L1030.5,658.6 L1032.9,655.3 L1035.2,651.9 L1037.6,648.6 L1040.0,645.2 L1042.4,641.9 L1044.8,638.5 L1047.2,635.2 L1049.6,631.8 L1052.1,628.5 L1054.5,625.1 L1056.9,621.8 L1059.3,618.5 L1061.8,615.1 L1064.2,611.8 L1066.7,608.5 L1069.1,605.2 L1071.6,601.8 L1074.0,598.5 L1076.5,595.2 L1079.0,591.9 L1081.4,588.6 L1083.9,585.3 L1086.4,582.0 L1088.9,578.7 L1091.4,575.4 L1093.9,572.1 L1096.4,568.9 L1098.9,565.6 L1101.4,562.3 L1104.0,559.0 L1106.5,555.8 L1109.0,552.5 L1111.6,549.2 L1114.1,546.0 L1116.7,542.7 L1119.2,539.5 L1121.8,536.2 L1124.4,533.0 L1126.9,529.8 L1129.5,526.6 L1132.1,523.3 L1134.7,520.1 L1137.3,516.9 L1139.9,513.7 L1142.5,510.5 L1145.2,507.3 L1147.8,504.1 L1150.4,500.9 L1153.1,497.7 L1155.7,494.6 L1158.4,491.4 L1161.0,488.2 L1163.7,485.1 L1166.4,481.9 L1169.1,478.8 L1171.7,475.6 L1174.4,472.5 L1177.1,469.4 L1179.8,466.2 L1182.6,463.1 L1185.3,460.0 L1188.0,456.9 L1190.8,453.8 L1193.5,450.7 L1196.3,447.6 L1199.0,444.6 L1201.8,441.5 L1204.6,438.4 L1207.4,435.4 L1210.1,432.3 L1212.9,429.3 L1215.8,426.2 L1218.6,423.2 L1221.4,420.2 L1224.2,417.2 L1227.1,414.2 L1229.9,411.2 L1232.8,408.3 L1235.7,405.3 L1238.7,402.4 L1241.6,399.5 L1244.6,396.7 L1247.6,393.9 L1250.7,391.2 L1253.7,388.4 L1256.9,385.8 L1260.0,383.2 L1263.3,380.6 L1266.5,378.1 L1269.8,375.7 L1273.2,373.3 L1276.6,371.0 L1280.1,368.8 L1283.6,366.6 L1287.1,364.5 L1290.7,362.4 L1294.4,360.3 L1298.0,358.3 L1301.6,356.3 L1305.3,354.2 L1309.0,352.2 L1312.6,350.2 L1316.3,348.2 L1319.9,346.1 L1323.5,344.0 L1327.1,341.9 L1330.7,339.7 L1334.2,337.5 L1337.6,335.2 L1341.1,332.8 L1344.5,330.5 L1347.9,328.1 L1351.3,325.7 L1354.7,323.4 L1358.1,321.0 L1361.5,318.8 L1364.9,316.5 L1368.4,314.4 L1371.9,312.4 L1375.5,310.5 L1379.2,308.7 L1382.9,307.0 L1386.7,305.5 L1390.6,304.2 L1394.6,303.1 L1398.7,302.1 L1402.8,301.3 L1407.0,300.7 L1411.2,300.3 L1415.5,300.0 L1419.7,299.8 L1423.9,299.8 L1428.1,299.8 L1432.2,300.0 L1436.4,300.3 L1440.5,300.6 L1444.6,301.0 L1448.7,301.4 L1452.7,301.9 L1456.8,302.4 L1460.9,302.9 L1464.9,303.4 L1469.0,303.9 L1473.1,304.4 L1477.2,304.8 L1481.3,305.1 L1485.4,305.4 L1489.6,305.7 L1493.7,305.9 L1497.9,306.1 L1502.0,306.2 L1506.2,306.4 L1510.4,306.6 L1514.5,306.8 L1518.7,307.0 L1522.8,307.3 L1527.0,307.6 L1531.1,307.9 L1535.2,308.4 L1539.3,308.9 L1543.4,309.5 L1547.5,310.2 L1551.5,311.0 L1555.5,311.8 L1559.5,312.8 L1563.5,313.7 L1567.5,314.8 L1571.5,315.9 L1575.4,317.1 L1579.4,318.3 L1583.3,319.6 L1587.2,320.9 L1591.1,322.2 L1595.0,323.6 L1598.9,325.0 L1602.8,326.5 L1606.7,328.0 L1610.6,329.5 L1614.4,331.0 L1618.3,332.5 L1622.1,334.1 L1626.0,335.6 L1629.8,337.2 L1633.7,338.7 L1637.5,340.3 L1641.4,341.8 L1645.2,343.3 L1649.0,344.8 L1652.9,346.3 L1656.7,347.8 L1660.6,349.2 L1664.4,350.6 L1668.3,352.0 L1672.1,353.4 L1676.0,354.7 L1679.9,356.1 L1683.8,357.4 L1687.7,358.7 L1691.6,359.9 L1695.5,361.2 L1699.4,362.5 L1703.3,363.7 L1707.3,364.9 L1711.2,366.1 L1715.2,367.3 L1719.2,368.5 L1723.2,369.7 L1727.2,370.9 L1731.2,372.2 L1735.1,373.4 L1739.1,374.7 L1743.0,376.1 L1746.9,377.5 L1750.7,378.9 L1754.5,380.5 L1758.2,382.1 L1761.8,383.8 L1765.3,385.6 L1768.8,387.6 L1772.2,389.7 L1775.4,391.9 L1778.5,394.2 L1781.6,396.7 L1784.5,399.3 L1787.4,402.0 L1790.2,404.8 L1792.9,407.6 L1795.6,410.5 L1798.2,413.5 L1800.8,416.5 L1803.4,419.5 L1806.0,422.6 L1808.6,425.6 L1811.2,428.6 L1813.8,431.5 L1816.5,434.4 L1819.2,437.3 L1821.9,440.1 L1824.7,442.8 L1827.4,445.6 L1830.2,448.4 L1833.0,451.2 L1835.7,454.1 L1838.5,456.9 L1841.3,459.7 L1844.0,462.6 L1846.8,465.4 L1849.6,468.3 L1852.4,471.2 L1855.2,474.0 L1858.0,476.9 L1860.8,479.8 L1863.6,482.7 L1866.4,485.6 L1869.2,488.5 L1872.0,491.4 L1874.8,494.4 L1877.6,497.3 L1880.4,500.2 L1883.2,503.2 L1886.0,506.1 L1888.8,509.1 L1891.6,512.1 L1894.4,515.0 L1897.2,518.0 L1900.0,521.0 L1902.9,524.0 L1905.7,527.0 L1908.5,530.0 L1911.3,533.0 L1914.1,536.0 L1916.9,539.0 L1919.7,542.0 L1922.5,545.0 L1925.4,548.1 L1928.2,551.1 L1931.0,554.1 L1933.8,557.2 L1936.6,560.2 L1939.4,563.3 L1942.2,566.3 L1945.0,569.4 L1947.8,572.4 L1950.6,575.5 L1953.4,578.5 L1956.2,581.6 L1959.0,584.7 L1961.8,587.7 L1964.6,590.8 L1967.4,593.9 L1970.2,597.0 L1973.0,600.0 L1975.8,603.1 L1978.6,606.2 L1981.4,609.3 L1984.1,612.4 L1986.9,615.4 L1989.7,618.5 L1992.5,621.6 L1995.2,624.7 L1998.0,627.8 L2000.8,630.9 L2003.5,634.0 L2006.3,637.1 L2009.0,640.2 L2011.8,643.2 L2014.5,646.3 L2017.2,649.4 L2020.0,652.5 L2022.7,655.6 L2025.4,658.7 L2028.2,661.8 L2030.9,664.9 L2033.6,667.9 L2036.3,671.0 L2039.1,674.1 L2041.8,677.2 L2044.5,680.2 L2047.3,683.3 L2050.0,686.3 L2052.8,689.4 L2055.6,692.4 L2058.3,695.4 L2061.1,698.4 L2063.9,701.4 L2066.7,704.4 L2069.5,707.4 L2072.4,710.4 L2075.2,713.3 L2078.1,716.3 L2081.0,719.2 L2083.9,722.1 L2086.8,725.0 L2089.7,727.9 L2092.7,730.8 L2095.7,733.7 L2098.7,736.5 L2101.7,739.4 L2104.7,742.2 L2107.7,745.0 L2110.7,747.9 L2113.7,750.8 L2116.7,753.7 L2119.6,756.6 L2122.5,759.5 L2125.3,762.5 L2128.1,765.6 L2130.8,768.7 L2133.5,771.8 L2136.1,775.0 L2138.5,778.3 L2140.9,781.7 L2143.2,785.2 L2145.4,788.7 L2147.5,792.3 L2149.4,796.1 L2151.2,799.9 L2152.9,803.9" stroke="#92D050"/>
<path d="M721.7,1263.4 L723.5,1259.7 L725.3,1255.9 L727.1,1252.2 L728.9,1248.5 L730.7,1244.8 L732.6,1241.1 L734.5,1237.4 L736.4,1233.7 L738.3,1230.1 L740.2,1226.4 L742.2,1222.8 L744.1,1219.1 L746.1,1215.5 L748.1,1211.9 L750.1,1208.3 L752.1,1204.6 L754.1,1201.0 L756.1,1197.4 L758.2,1193.8 L760.2,1190.3 L762.3,1186.7 L764.4,1183.1 L766.4,1179.5 L768.5,1176.0 L770.6,1172.4 L772.7,1168.8 L774.8,1165.3 L776.9,1161.7 L779.1,1158.2 L781.2,1154.6 L783.3,1151.1 L785.5,1147.6 L787.6,1144.0 L789.7,1140.5 L791.9,1137.0 L794.0,1133.4 L796.2,1129.9 L798.3,1126.4 L800.5,1122.8 L802.6,1119.3 L804.8,1115.8 L806.9,1112.2 L809.0,1108.7 L811.2,1105.2 L813.3,1101.6 L815.5,1098.1 L817.6,1094.5 L819.7,1091.0 L821.9,1087.5 L824.0,1083.9 L826.1,1080.4 L828.2,1076.8 L830.3,1073.2 L832.4,1069.7 L834.5,1066.1 L836.6,1062.5 L838.6,1059.0 L840.7,1055.4 L842.8,1051.8 L844.8,1048.2 L846.8,1044.6 L848.8,1041.0 L850.9,1037.4 L852.9,1033.8 L854.8,1030.2 L856.8,1026.5 L858.8,1022.9 L860.7,1019.2 L862.6,1015.6 L864.6,1011.9 L866.5,1008.3 L868.4,1004.6 L870.3,1000.9 L872.2,997.2 L874.1,993.6 L875.9,989.9 L877.8,986.2 L879.7,982.5 L881.6,978.9 L883.6,975.2 L885.5,971.6 L887.4,967.9 L889.4,964.3 L891.3,960.6 L893.3,957.0 L895.3,953.4 L897.3,949.8 L899.4,946.3 L901.5,942.7 L903.5,939.1 L905.7,935.6 L907.8,932.1 L909.9,928.5 L912.1,925.0 L914.3,921.5 L916.5,918.0 L918.7,914.6 L920.9,911.1 L923.1,907.6 L925.3,904.1 L927.5,900.7 L929.8,897.2 L932.0,893.7 L934.3,890.3 L936.5,886.8 L938.7,883.3 L941.0,879.9 L943.2,876.4 L945.4,872.9 L947.6,869.4 L949.9,865.9 L952.1,862.5 L954.3,859.0 L956.5,855.5 L958.7,852.0 L960.9,848.5 L963.1,845.0 L965.3,841.5 L967.5,838.0 L969.7,834.5 L972.0,831.1 L974.2,827.6 L976.4,824.1 L978.6,820.6 L980.8,817.1 L983.1,813.6 L985.3,810.2 L987.5,806.7 L989.8,803.2 L992.0,799.8 L994.3,796.3 L996.5,792.8 L998.8,789.4 L1001.1,785.9 L1003.3,782.5 L1005.6,779.1 L1007.9,775.6 L1010.2,772.2 L1012.5,768.8 L1014.9,765.4 L1017.2,762.0 L1019.5,758.6 L1021.9,755.2 L1024.3,751.8 L1026.6,748.4 L1029.0,745.0 L1031.4,741.7 L1033.8,738.3 L1036.2,734.9 L1038.6,731.6 L1041.0,728.2 L1043.4,724.9 L1045.8,721.5 L1048.2,718.2 L1050.7,714.9 L1053.1,711.5 L1055.5,708.2 L1058.0,704.9 L1060.4,701.6 L1062.9,698.2 L1065.4,694.9 L1067.8,691.6 L1070.3,688.3 L1072.8,685.0 L1075.2,681.7 L1077.7,678.4 L1080.2,675.1 L1082.7,671.8 L1085.1,668.5 L1087.6,665.2 L1090.1,661.9 L1092.6,658.6 L1095.1,655.3 L1097.6,652.0 L1100.0,648.7 L1102.5,645.4 L1105.0,642.1 L1107.5,638.8 L1110.0,635.5 L1112.5,632.2 L1115.0,628.9 L1117.5,625.6 L1119.9,622.3 L1122.4,619.0 L1124.9,615.7 L1127.4,612.4 L1129.8,609.1 L1132.3,605.8 L1134.8,602.5 L1137.2,599.2 L1139.7,595.9 L1142.2,592.6 L1144.6,589.3 L1147.1,586.0 L1149.5,582.7 L1152.0,579.3 L1154.4,576.0 L1156.8,572.7 L1159.2,569.4 L1161.7,566.0 L1164.1,562.7 L1166.5,559.3 L1168.9,556.0 L1171.3,552.7 L1173.7,549.3 L1176.1,546.0 L1178.5,542.7 L1181.0,539.3 L1183.4,536.0 L1185.9,532.7 L1188.4,529.5 L1190.9,526.2 L1193.4,523.0 L1196.0,519.8 L1198.6,516.6 L1201.2,513.4 L1203.8,510.3 L1206.5,507.2 L1209.2,504.1 L1212.0,501.1 L1214.8,498.1 L1217.7,495.1 L1220.6,492.2 L1223.6,489.3 L1226.6,486.4 L1229.6,483.6 L1232.6,480.8 L1235.7,478.0 L1238.8,475.2 L1241.9,472.4 L1245.0,469.6 L1248.1,466.8 L1251.2,464.0 L1254.2,461.2 L1257.3,458.4 L1260.4,455.6 L1263.4,452.8 L1266.4,449.9 L1269.4,447.0 L1272.3,444.0 L1275.2,441.1 L1278.0,438.0 L1280.8,435.0 L1283.6,431.9 L1286.3,428.8 L1289.0,425.7 L1291.7,422.5 L1294.3,419.4 L1297.0,416.2 L1299.7,413.1 L1302.4,410.0 L1305.1,406.9 L1307.8,403.8 L1310.6,400.8 L1313.4,397.8 L1316.3,394.8 L1319.2,391.9 L1322.2,389.1 L1325.2,386.3 L1328.4,383.7 L1331.6,381.1 L1334.9,378.5 L1338.3,376.1 L1341.7,373.8 L1345.3,371.5 L1348.9,369.4 L1352.5,367.3 L1356.2,365.3 L1360.0,363.3 L1363.7,361.4 L1367.5,359.6 L1371.3,357.8 L1375.1,356.1 L1378.9,354.5 L1382.7,352.9 L1386.6,351.4 L1390.4,349.9 L1394.3,348.5 L1398.2,347.2 L1402.1,345.9 L1406.0,344.6 L1409.9,343.5 L1413.9,342.3 L1417.8,341.2 L1421.8,340.2 L1425.7,339.2 L1429.7,338.3 L1433.7,337.4 L1437.7,336.6 L1441.7,335.8 L1445.7,335.1 L1449.8,334.4 L1453.8,333.7 L1457.9,333.1 L1461.9,332.6 L1466.0,332.1 L1470.0,331.6 L1474.1,331.2 L1478.2,330.8 L1482.3,330.4 L1486.4,330.1 L1490.5,329.9 L1494.6,329.6 L1498.7,329.5 L1502.8,329.3 L1507.0,329.2 L1511.1,329.1 L1515.2,329.0 L1519.4,329.0 L1523.5,329.0 L1527.7,329.1 L1531.8,329.2 L1536.0,329.3 L1540.1,329.4 L1544.3,329.6 L1548.4,329.8 L1552.6,330.0 L1556.7,330.3 L1560.9,330.6 L1565.1,330.9 L1569.2,331.2 L1573.4,331.6 L1577.6,331.9 L1581.7,332.3 L1585.9,332.7 L1590.0,333.2 L1594.2,333.7 L1598.4,334.1 L1602.5,334.6 L1606.7,335.2 L1610.8,335.7 L1615.0,336.3 L1619.1,336.8 L1623.2,337.4 L1627.4,338.1 L1631.5,338.7 L1635.6,339.4 L1639.7,340.1 L1643.8,340.8 L1647.9,341.5 L1652.0,342.3 L1656.1,343.1 L1660.2,343.9 L1664.3,344.8 L1668.3,345.6 L1672.4,346.5 L1676.4,347.5 L1680.4,348.4 L1684.4,349.4 L1688.4,350.4 L1692.4,351.4 L1696.4,352.5 L1700.4,353.6 L1704.3,354.7 L1708.2,355.9 L1712.1,357.1 L1716.0,358.3 L1719.9,359.5 L1723.8,360.8 L1727.7,362.1 L1731.5,363.5 L1735.3,364.9 L1739.1,366.3 L1742.9,367.7 L1746.6,369.2 L1750.4,370.8 L1754.1,372.3 L1757.8,373.9 L1761.5,375.5 L1765.1,377.2 L1768.8,378.9 L1772.4,380.7 L1775.9,382.4 L1779.5,384.3 L1783.1,386.1 L1786.6,388.0 L1790.1,390.0 L1793.5,392.0 L1797.0,394.0 L1800.4,396.1 L1803.7,398.2 L1807.1,400.3 L1810.4,402.5 L1813.7,404.7 L1817.0,407.0 L1820.2,409.3 L1823.4,411.7 L1826.6,414.1 L1829.8,416.6 L1832.9,419.1 L1836.0,421.6 L1839.0,424.2 L1842.1,426.9 L1845.1,429.5 L1848.1,432.2 L1851.0,435.0 L1853.9,437.8 L1856.9,440.6 L1859.7,443.4 L1862.6,446.3 L1865.5,449.2 L1868.3,452.1 L1871.2,455.0 L1874.0,458.0 L1876.8,460.9 L1879.6,463.9 L1882.4,466.9 L1885.2,469.9 L1887.9,473.0 L1890.7,476.0 L1893.5,479.0 L1896.2,482.1 L1899.0,485.1 L1901.8,488.2 L1904.5,491.2 L1907.3,494.3 L1910.1,497.3 L1912.9,500.4 L1915.7,503.4 L1918.5,506.4 L1921.3,509.4 L1924.1,512.4 L1927.0,515.4 L1929.8,518.4 L1932.7,521.3 L1935.6,524.3 L1938.4,527.2 L1941.3,530.1 L1944.2,533.1 L1947.1,536.0 L1950.0,538.9 L1952.9,541.8 L1955.9,544.7 L1958.8,547.5 L1961.7,550.4 L1964.6,553.3 L1967.6,556.2 L1970.5,559.1 L1973.4,562.0 L1976.3,564.8 L1979.2,567.7 L1982.2,570.6 L1985.1,573.5 L1988.0,576.4 L1990.9,579.3 L1993.8,582.2 L1996.7,585.1 L1999.5,588.1 L2002.4,591.0 L2005.3,593.9 L2008.1,596.9 L2011.0,599.9 L2013.8,602.9 L2016.6,605.8 L2019.4,608.9 L2022.2,611.9 L2025.0,614.9 L2027.7,618.0 L2030.5,621.1 L2033.2,624.2 L2035.9,627.3 L2038.6,630.4 L2041.2,633.6 L2043.9,636.7 L2046.5,639.9 L2049.2,643.1 L2051.9,646.2 L2054.5,649.4 L2057.2,652.6 L2059.9,655.7 L2062.5,658.9 L2065.3,662.0 L2068.0,665.1 L2070.8,668.1 L2073.5,671.2 L2076.4,674.2 L2079.2,677.1 L2082.1,680.1 L2085.0,682.9 L2088.0,685.8 L2091.1,688.5 L2094.2,691.3 L2097.3,693.9 L2100.5,696.5 L2103.8,699.1 L2107.1,701.5 L2110.5,703.9 L2113.9,706.3 L2117.4,708.6 L2120.9,710.9 L2124.4,713.1 L2127.9,715.3 L2131.5,717.5 L2135.0,719.6 L2138.6,721.7 L2142.2,723.8 L2145.8,725.8 L2149.3,727.9 L2152.9,729.9" stroke="#FFFF00"/>
<path d="M721.7,1381.0 L723.9,1377.4 L726.1,1373.8 L728.3,1370.3 L730.5,1366.7 L732.7,1363.1 L734.9,1359.5 L737.1,1355.9 L739.2,1352.3 L741.4,1348.7 L743.6,1345.1 L745.8,1341.5 L747.9,1337.9 L750.1,1334.3 L752.3,1330.7 L754.4,1327.1 L756.6,1323.4 L758.8,1319.8 L760.9,1316.2 L763.1,1312.6 L765.2,1309.0 L767.4,1305.3 L769.5,1301.7 L771.7,1298.1 L773.8,1294.4 L776.0,1290.8 L778.1,1287.2 L780.2,1283.5 L782.4,1279.9 L784.5,1276.2 L786.6,1272.6 L788.8,1269.0 L790.9,1265.3 L793.0,1261.7 L795.1,1258.0 L797.3,1254.4 L799.4,1250.7 L801.5,1247.0 L803.6,1243.4 L805.8,1239.7 L807.9,1236.1 L810.0,1232.4 L812.1,1228.8 L814.2,1225.1 L816.3,1221.4 L818.4,1217.8 L820.6,1214.1 L822.7,1210.4 L824.8,1206.8 L826.9,1203.1 L829.0,1199.4 L831.1,1195.8 L833.2,1192.1 L835.3,1188.4 L837.4,1184.8 L839.5,1181.1 L841.6,1177.4 L843.7,1173.7 L845.8,1170.1 L848.0,1166.4 L850.1,1162.7 L852.2,1159.0 L854.3,1155.4 L856.4,1151.7 L858.5,1148.0 L860.6,1144.3 L862.7,1140.7 L864.8,1137.0 L866.9,1133.3 L869.0,1129.6 L871.1,1126.0 L873.2,1122.3 L875.3,1118.6 L877.4,1114.9 L879.6,1111.3 L881.7,1107.6 L883.8,1103.9 L885.9,1100.3 L888.0,1096.6 L890.1,1092.9 L892.2,1089.2 L894.3,1085.6 L896.5,1081.9 L898.6,1078.2 L900.7,1074.6 L902.8,1070.9 L904.9,1067.2 L907.1,1063.6 L909.2,1059.9 L911.3,1056.2 L913.4,1052.6 L915.6,1048.9 L917.7,1045.2 L919.8,1041.6 L922.0,1037.9 L924.1,1034.3 L926.2,1030.6 L928.4,1027.0 L930.5,1023.3 L932.7,1019.7 L934.8,1016.0 L936.9,1012.4 L939.1,1008.7 L941.2,1005.1 L943.4,1001.4 L945.5,997.8 L947.7,994.1 L949.9,990.5 L952.0,986.9 L954.2,983.2 L956.4,979.6 L958.5,976.0 L960.7,972.3 L962.9,968.7 L965.1,965.1 L967.2,961.5 L969.4,957.8 L971.6,954.2 L973.8,950.6 L976.0,947.0 L978.2,943.4 L980.4,939.8 L982.6,936.2 L984.8,932.6 L987.0,929.0 L989.2,925.4 L991.4,921.8 L993.7,918.2 L995.9,914.6 L998.1,911.0 L1000.3,907.4 L1002.6,903.8 L1004.8,900.2 L1007.0,896.7 L1009.3,893.1 L1011.5,889.5 L1013.8,885.9 L1016.0,882.4 L1018.3,878.8 L1020.6,875.3 L1022.8,871.7 L1025.1,868.2 L1027.4,864.6 L1029.7,861.1 L1032.0,857.5 L1034.2,854.0 L1036.5,850.4 L1038.8,846.9 L1041.1,843.4 L1043.4,839.8 L1045.7,836.3 L1048.0,832.8 L1050.4,829.3 L1052.7,825.7 L1055.0,822.2 L1057.3,818.7 L1059.7,815.2 L1062.0,811.7 L1064.3,808.2 L1066.7,804.7 L1069.0,801.2 L1071.3,797.7 L1073.7,794.2 L1076.0,790.7 L1078.4,787.2 L1080.7,783.7 L1083.1,780.2 L1085.5,776.7 L1087.8,773.2 L1090.2,769.7 L1092.6,766.2 L1094.9,762.7 L1097.3,759.2 L1099.7,755.7 L1102.1,752.3 L1104.5,748.8 L1106.8,745.3 L1109.2,741.8 L1111.6,738.3 L1114.0,734.9 L1116.4,731.4 L1118.8,727.9 L1121.2,724.4 L1123.6,720.9 L1126.0,717.5 L1128.4,714.0 L1130.8,710.5 L1133.2,707.0 L1135.6,703.6 L1138.1,700.1 L1140.5,696.6 L1142.9,693.1 L1145.3,689.7 L1147.7,686.2 L1150.2,682.7 L1152.6,679.2 L1155.0,675.8 L1157.4,672.3 L1159.9,668.8 L1162.3,665.3 L1164.7,661.9 L1167.2,658.4 L1169.6,654.9 L1172.0,651.4 L1174.5,648.0 L1176.9,644.5 L1179.4,641.0 L1181.8,637.5 L1184.2,634.0 L1186.7,630.6 L1189.1,627.1 L1191.6,623.6 L1194.0,620.1 L1196.5,616.6 L1199.0,613.1 L1201.4,609.7 L1203.9,606.2 L1206.3,602.7 L1208.8,599.3 L1211.3,595.8 L1213.8,592.3 L1216.3,588.9 L1218.8,585.4 L1221.3,582.0 L1223.8,578.6 L1226.3,575.1 L1228.8,571.7 L1231.4,568.3 L1233.9,564.9 L1236.5,561.5 L1239.0,558.1 L1241.6,554.7 L1244.2,551.4 L1246.8,548.0 L1249.4,544.7 L1252.0,541.3 L1254.6,538.0 L1257.3,534.7 L1259.9,531.4 L1262.6,528.1 L1265.3,524.9 L1268.0,521.6 L1270.7,518.4 L1273.4,515.2 L1276.2,511.9 L1278.9,508.8 L1281.7,505.6 L1284.5,502.4 L1287.3,499.3 L1290.1,496.2 L1292.9,493.1 L1295.8,490.0 L1298.7,487.0 L1301.6,483.9 L1304.5,480.9 L1307.4,477.9 L1310.4,475.0 L1313.4,472.0 L1316.3,469.1 L1319.4,466.2 L1322.4,463.3 L1325.5,460.5 L1328.5,457.6 L1331.7,454.8 L1334.8,452.1 L1337.9,449.3 L1341.1,446.6 L1344.3,443.9 L1347.6,441.2 L1350.8,438.6 L1354.1,436.0 L1357.4,433.4 L1360.7,430.9 L1364.1,428.3 L1367.5,425.9 L1370.9,423.4 L1374.3,421.0 L1377.8,418.6 L1381.3,416.2 L1384.8,413.9 L1388.4,411.6 L1392.0,409.4 L1395.6,407.1 L1399.2,405.0 L1402.9,402.8 L1406.6,400.7 L1410.3,398.6 L1414.1,396.6 L1417.9,394.6 L1421.7,392.6 L1425.5,390.7 L1429.4,388.8 L1433.2,386.9 L1437.1,385.1 L1441.0,383.4 L1445.0,381.6 L1448.9,379.9 L1452.9,378.3 L1456.9,376.7 L1460.9,375.1 L1464.9,373.6 L1468.9,372.1 L1472.9,370.7 L1477.0,369.3 L1481.0,368.0 L1485.1,366.7 L1489.2,365.4 L1493.3,364.2 L1497.4,363.1 L1501.5,361.9 L1505.6,360.9 L1509.7,359.9 L1513.9,358.9 L1518.0,358.0 L1522.1,357.1 L1526.3,356.3 L1530.4,355.5 L1534.5,354.8 L1538.7,354.1 L1542.8,353.5 L1546.9,352.9 L1551.0,352.3 L1555.2,351.8 L1559.3,351.3 L1563.4,350.9 L1567.6,350.4 L1571.7,350.0 L1575.9,349.6 L1580.0,349.2 L1584.2,348.7 L1588.3,348.3 L1592.5,347.8 L1596.7,347.3 L1600.8,346.8 L1605.0,346.3 L1609.2,345.8 L1613.4,345.2 L1617.6,344.7 L1621.8,344.2 L1626.0,343.6 L1630.3,343.1 L1634.5,342.6 L1638.7,342.2 L1643.0,341.8 L1647.2,341.4 L1651.5,341.1 L1655.7,340.8 L1660.0,340.6 L1664.3,340.4 L1668.5,340.3 L1672.8,340.2 L1677.1,340.2 L1681.4,340.3 L1685.6,340.4 L1689.9,340.6 L1694.2,340.8 L1698.4,341.1 L1702.7,341.5 L1706.9,341.9 L1711.2,342.4 L1715.4,342.9 L1719.6,343.5 L1723.9,344.1 L1728.1,344.8 L1732.2,345.6 L1736.4,346.4 L1740.6,347.3 L1744.7,348.2 L1748.8,349.2 L1752.9,350.2 L1757.0,351.3 L1761.0,352.5 L1765.1,353.7 L1769.1,355.0 L1773.1,356.3 L1777.0,357.7 L1780.9,359.2 L1784.8,360.7 L1788.7,362.3 L1792.5,363.9 L1796.4,365.6 L1800.1,367.4 L1803.9,369.2 L1807.6,371.1 L1811.2,373.0 L1814.9,375.0 L1818.5,377.0 L1822.0,379.1 L1825.6,381.3 L1829.1,383.4 L1832.6,385.7 L1836.0,387.9 L1839.4,390.2 L1842.9,392.6 L1846.2,395.0 L1849.6,397.4 L1852.9,399.8 L1856.2,402.3 L1859.5,404.8 L1862.8,407.3 L1866.0,409.8 L1869.3,412.4 L1872.5,415.0 L1875.7,417.6 L1878.9,420.2 L1882.1,422.8 L1885.2,425.4 L1888.4,428.0 L1891.5,430.6 L1894.7,433.3 L1897.8,435.9 L1900.9,438.5 L1904.0,441.1 L1907.1,443.7 L1910.2,446.3 L1913.3,449.0 L1916.4,451.6 L1919.5,454.2 L1922.6,456.8 L1925.6,459.5 L1928.7,462.1 L1931.7,464.8 L1934.8,467.4 L1937.8,470.1 L1940.9,472.8 L1943.9,475.5 L1946.9,478.3 L1949.9,481.0 L1952.9,483.8 L1955.9,486.6 L1958.9,489.4 L1961.8,492.2 L1964.8,495.1 L1967.8,498.0 L1970.7,500.9 L1973.7,503.8 L1976.6,506.8 L1979.6,509.8 L1982.5,512.9 L1985.4,516.0 L1988.3,519.1 L1991.2,522.2 L1994.1,525.3 L1997.1,528.5 L2000.0,531.6 L2002.9,534.8 L2005.8,537.9 L2008.8,541.0 L2011.8,544.1 L2014.7,547.2 L2017.7,550.3 L2020.7,553.3 L2023.7,556.3 L2026.8,559.3 L2029.8,562.3 L2032.9,565.2 L2035.9,568.1 L2039.0,571.0 L2042.1,573.9 L2045.2,576.8 L2048.2,579.6 L2051.3,582.5 L2054.4,585.3 L2057.5,588.1 L2060.6,591.0 L2063.7,593.8 L2066.8,596.6 L2069.8,599.5 L2072.9,602.3 L2076.0,605.2 L2079.0,608.1 L2082.1,611.0 L2085.1,613.9 L2088.1,616.8 L2091.1,619.7 L2094.0,622.7 L2097.0,625.6 L2099.9,628.6 L2102.8,631.6 L2105.6,634.5 L2108.5,637.4 L2111.3,640.3 L2114.0,643.2 L2116.7,646.0 L2119.3,648.8 L2121.9,651.5 L2124.5,654.2 L2126.9,656.9 L2129.1,659.8 L2131.3,662.9 L2133.5,666.1 L2135.8,669.4 L2138.2,672.8 L2140.6,676.4 L2143.0,680.0 L2145.3,683.7 L2147.5,687.4 L2149.6,691.2 L2151.4,695.0 L2152.9,698.8" stroke="#FFC000"/>
<path d="M721.7,1468.0 L723.7,1464.2 L725.8,1460.5 L727.8,1456.8 L729.9,1453.0 L731.9,1449.3 L734.0,1445.6 L736.1,1441.9 L738.2,1438.2 L740.3,1434.5 L742.5,1430.8 L744.6,1427.2 L746.7,1423.5 L748.9,1419.8 L751.0,1416.2 L753.2,1412.5 L755.4,1408.9 L757.6,1405.2 L759.7,1401.6 L761.9,1398.0 L764.1,1394.3 L766.3,1390.7 L768.6,1387.1 L770.8,1383.5 L773.0,1379.9 L775.2,1376.3 L777.5,1372.7 L779.7,1369.1 L781.9,1365.5 L784.2,1361.9 L786.4,1358.3 L788.7,1354.8 L790.9,1351.2 L793.2,1347.6 L795.5,1344.0 L797.7,1340.5 L800.0,1336.9 L802.3,1333.3 L804.5,1329.7 L806.8,1326.2 L809.1,1322.6 L811.3,1319.0 L813.6,1315.5 L815.9,1311.9 L818.1,1308.3 L820.4,1304.8 L822.7,1301.2 L824.9,1297.6 L827.2,1294.1 L829.5,1290.5 L831.7,1286.9 L834.0,1283.3 L836.2,1279.8 L838.5,1276.2 L840.7,1272.6 L843.0,1269.0 L845.2,1265.4 L847.5,1261.9 L849.7,1258.3 L851.9,1254.7 L854.1,1251.1 L856.4,1247.5 L858.6,1243.9 L860.8,1240.3 L863.0,1236.6 L865.2,1233.0 L867.3,1229.4 L869.5,1225.8 L871.7,1222.1 L873.9,1218.5 L876.0,1214.8 L878.2,1211.2 L880.3,1207.5 L882.4,1203.9 L884.5,1200.2 L886.6,1196.5 L888.7,1192.8 L890.8,1189.2 L892.9,1185.5 L895.0,1181.7 L897.0,1178.0 L899.1,1174.3 L901.1,1170.6 L903.2,1166.9 L905.2,1163.1 L907.2,1159.4 L909.3,1155.7 L911.3,1151.9 L913.3,1148.2 L915.3,1144.4 L917.3,1140.7 L919.3,1136.9 L921.3,1133.2 L923.3,1129.4 L925.2,1125.6 L927.2,1121.9 L929.2,1118.1 L931.2,1114.3 L933.2,1110.6 L935.1,1106.8 L937.1,1103.0 L939.1,1099.3 L941.1,1095.5 L943.0,1091.7 L945.0,1088.0 L947.0,1084.2 L949.0,1080.5 L950.9,1076.7 L952.9,1072.9 L954.9,1069.2 L956.9,1065.4 L958.9,1061.7 L960.9,1057.9 L962.9,1054.2 L964.9,1050.5 L966.9,1046.7 L968.9,1043.0 L970.9,1039.3 L973.0,1035.6 L975.0,1031.8 L977.0,1028.1 L979.1,1024.4 L981.2,1020.7 L983.2,1017.0 L985.3,1013.4 L987.4,1009.7 L989.5,1006.0 L991.6,1002.4 L993.7,998.7 L995.8,995.1 L998.0,991.4 L1000.1,987.8 L1002.3,984.2 L1004.4,980.6 L1006.6,977.0 L1008.8,973.4 L1011.0,969.8 L1013.2,966.3 L1015.5,962.7 L1017.7,959.1 L1020.0,955.6 L1022.2,952.1 L1024.5,948.5 L1026.8,945.0 L1029.1,941.5 L1031.4,938.0 L1033.8,934.5 L1036.1,931.0 L1038.4,927.5 L1040.8,924.0 L1043.2,920.6 L1045.6,917.1 L1048.0,913.6 L1050.4,910.2 L1052.8,906.8 L1055.3,903.3 L1057.7,899.9 L1060.2,896.5 L1062.7,893.0 L1065.1,889.6 L1067.6,886.2 L1070.2,882.8 L1072.7,879.4 L1075.2,876.0 L1077.8,872.6 L1080.3,869.2 L1082.9,865.8 L1085.5,862.4 L1088.0,859.0 L1090.6,855.6 L1093.1,852.2 L1095.6,848.8 L1098.2,845.4 L1100.7,842.0 L1103.2,838.6 L1105.6,835.1 L1108.1,831.7 L1110.5,828.2 L1113.0,824.8 L1115.4,821.3 L1117.8,817.8 L1120.1,814.3 L1122.5,810.8 L1124.9,807.3 L1127.2,803.8 L1129.6,800.3 L1131.9,796.8 L1134.2,793.3 L1136.5,789.8 L1138.8,786.2 L1141.1,782.7 L1143.4,779.1 L1145.7,775.6 L1148.0,772.0 L1150.3,768.5 L1152.5,764.9 L1154.8,761.4 L1157.1,757.8 L1159.3,754.2 L1161.6,750.6 L1163.9,747.1 L1166.1,743.5 L1168.4,739.9 L1170.6,736.3 L1172.9,732.7 L1175.1,729.1 L1177.4,725.5 L1179.7,722.0 L1181.9,718.4 L1184.2,714.8 L1186.5,711.2 L1188.8,707.6 L1191.0,704.0 L1193.3,700.4 L1195.6,696.8 L1197.9,693.2 L1200.2,689.6 L1202.5,686.1 L1204.8,682.5 L1207.1,678.9 L1209.4,675.3 L1211.7,671.8 L1214.0,668.2 L1216.4,664.6 L1218.7,661.1 L1221.1,657.5 L1223.4,654.0 L1225.8,650.4 L1228.1,646.9 L1230.5,643.4 L1232.9,639.8 L1235.3,636.3 L1237.7,632.8 L1240.1,629.3 L1242.5,625.8 L1244.9,622.3 L1247.3,618.8 L1249.8,615.4 L1252.3,611.9 L1254.7,608.5 L1257.2,605.0 L1259.7,601.6 L1262.2,598.2 L1264.7,594.8 L1267.2,591.4 L1269.8,588.0 L1272.3,584.6 L1274.9,581.2 L1277.4,577.9 L1280.0,574.6 L1282.6,571.2 L1285.2,567.9 L1287.9,564.6 L1290.5,561.3 L1293.2,558.1 L1295.9,554.8 L1298.5,551.6 L1301.2,548.3 L1304.0,545.1 L1306.7,541.9 L1309.5,538.8 L1312.2,535.6 L1315.0,532.5 L1317.8,529.3 L1320.6,526.2 L1323.5,523.1 L1326.4,520.1 L1329.2,517.0 L1332.2,514.0 L1335.1,511.0 L1338.1,508.0 L1341.0,505.0 L1344.1,502.1 L1347.1,499.2 L1350.2,496.3 L1353.3,493.4 L1356.5,490.6 L1359.6,487.8 L1362.9,485.0 L1366.1,482.3 L1369.4,479.6 L1372.7,476.8 L1376.0,474.1 L1379.3,471.4 L1382.6,468.6 L1385.8,465.8 L1389.1,463.0 L1392.3,460.2 L1395.4,457.3 L1398.5,454.4 L1401.7,451.4 L1404.8,448.5 L1407.9,445.6 L1411.0,442.8 L1414.2,440.0 L1417.4,437.2 L1420.6,434.6 L1424.0,432.1 L1427.3,429.6 L1430.8,427.3 L1434.3,425.1 L1437.8,423.0 L1441.4,421.0 L1445.1,419.1 L1448.9,417.3 L1452.7,415.7 L1456.6,414.1 L1460.5,412.6 L1464.5,411.1 L1468.5,409.7 L1472.6,408.3 L1476.6,406.9 L1480.6,405.5 L1484.7,404.1 L1488.7,402.6 L1492.7,401.2 L1496.7,399.7 L1500.7,398.2 L1504.7,396.7 L1508.7,395.1 L1512.6,393.5 L1516.6,392.0 L1520.5,390.4 L1524.4,388.7 L1528.4,387.1 L1532.3,385.6 L1536.2,384.0 L1540.1,382.4 L1544.1,380.9 L1548.0,379.4 L1552.0,378.0 L1555.9,376.6 L1559.9,375.2 L1563.9,373.9 L1567.9,372.7 L1572.0,371.5 L1576.1,370.4 L1580.2,369.4 L1584.3,368.4 L1588.4,367.4 L1592.5,366.5 L1596.7,365.6 L1600.8,364.7 L1605.0,363.8 L1609.1,363.0 L1613.3,362.1 L1617.5,361.2 L1621.7,360.3 L1625.8,359.4 L1630.0,358.4 L1634.1,357.4 L1638.3,356.4 L1642.4,355.4 L1646.6,354.4 L1650.7,353.3 L1654.9,352.3 L1659.0,351.3 L1663.2,350.3 L1667.3,349.3 L1671.4,348.3 L1675.6,347.3 L1679.7,346.4 L1683.8,345.5 L1688.0,344.7 L1692.1,343.9 L1696.3,343.1 L1700.4,342.4 L1704.5,341.8 L1708.7,341.2 L1712.8,340.7 L1717.0,340.2 L1721.1,339.9 L1725.3,339.6 L1729.5,339.4 L1733.6,339.3 L1737.8,339.3 L1742.0,339.4 L1746.2,339.6 L1750.4,340.0 L1754.6,340.4 L1758.7,340.9 L1762.9,341.6 L1767.1,342.3 L1771.3,343.2 L1775.5,344.1 L1779.7,345.1 L1783.8,346.3 L1787.9,347.5 L1792.1,348.8 L1796.2,350.2 L1800.2,351.7 L1804.3,353.3 L1808.3,354.9 L1812.3,356.7 L1816.3,358.5 L1820.2,360.4 L1824.1,362.3 L1827.9,364.3 L1831.8,366.4 L1835.5,368.6 L1839.3,370.8 L1842.9,373.1 L1846.6,375.4 L1850.1,377.8 L1853.6,380.3 L1857.1,382.8 L1860.5,385.3 L1863.8,388.0 L1867.1,390.6 L1870.3,393.3 L1873.5,396.0 L1876.7,398.8 L1879.8,401.5 L1882.9,404.3 L1885.9,407.1 L1889.0,409.9 L1892.1,412.7 L1895.1,415.4 L1898.2,418.2 L1901.3,420.9 L1904.4,423.6 L1907.5,426.2 L1910.7,428.8 L1914.0,431.4 L1917.2,433.9 L1920.6,436.4 L1924.0,438.7 L1927.5,441.1 L1931.0,443.3 L1934.5,445.6 L1938.1,447.8 L1941.7,450.0 L1945.3,452.1 L1949.0,454.3 L1952.6,456.5 L1956.2,458.7 L1959.8,460.9 L1963.4,463.1 L1967.0,465.4 L1970.5,467.7 L1974.0,470.1 L1977.4,472.6 L1980.7,475.1 L1984.0,477.7 L1987.3,480.4 L1990.4,483.2 L1993.5,486.0 L1996.6,488.9 L1999.6,491.9 L2002.6,494.9 L2005.5,498.0 L2008.5,501.0 L2011.3,504.2 L2014.2,507.3 L2017.1,510.4 L2020.0,513.6 L2022.8,516.7 L2025.7,519.9 L2028.6,523.0 L2031.5,526.1 L2034.4,529.1 L2037.4,532.2 L2040.4,535.2 L2043.4,538.1 L2046.5,541.0 L2049.7,543.8 L2052.9,546.6 L2056.1,549.3 L2059.3,552.0 L2062.6,554.6 L2065.9,557.3 L2069.2,559.9 L2072.6,562.5 L2075.9,565.1 L2079.2,567.8 L2082.5,570.4 L2085.8,573.1 L2089.1,575.7 L2092.4,578.4 L2095.7,581.2 L2098.9,583.9 L2102.1,586.7 L2105.3,589.5 L2108.5,592.3 L2111.6,595.2 L2114.7,598.1 L2117.7,601.0 L2120.7,604.0 L2123.7,607.0 L2126.6,610.1 L2129.5,613.2 L2132.3,616.4 L2135.1,619.6 L2137.8,622.8 L2140.5,626.1 L2143.1,629.5 L2145.7,632.9 L2148.1,636.4 L2150.6,639.9 L2152.9,643.5" stroke="#FF0000"/>
</g>
<g stroke="#000" stroke-width="3" fill="none">
<rect x="580.5" y="69.5" width="1700.0" height="1665.2" fill="none" stroke="#000" stroke-width="3"/>
<line x1="560" y1="69.5" x2="580.5" y2="69.5"/>
<line x1="560" y1="307.4" x2="580.5" y2="307.4"/>
<line x1="560" y1="545.3" x2="580.5" y2="545.3"/>
<line x1="560" y1="783.2" x2="580.5" y2="783.2"/>
<line x1="560" y1="1021.0" x2="580.5" y2="1021.0"/>
<line x1="560" y1="1258.9" x2="580.5" y2="1258.9"/>
<line x1="560" y1="1496.8" x2="580.5" y2="1496.8"/>
<line x1="560" y1="1734.7" x2="580.5" y2="1734.7"/>
<line x1="580.5" y1="1734.7" x2="580.5" y2="1755"/>
<line x1="863.8" y1="1734.7" x2="863.8" y2="1755"/>
<line x1="1147.2" y1="1734.7" x2="1147.2" y2="1755"/>
<line x1="1430.5" y1="1734.7" x2="1430.5" y2="1755"/>
<line x1="1713.8" y1="1734.7" x2="1713.8" y2="1755"/>
<line x1="1997.2" y1="1734.7" x2="1997.2" y2="1755"/>
<line x1="2280.5" y1="1734.7" x2="2280.5" y2="1755"/>
</g>
<g stroke="#000" fill="none" stroke-linecap="round" stroke-linejoin="round"><line x1="1252" y1="1241.3" x2="1793" y2="1241.3" stroke-width="5" stroke-linecap="butt"/><polyline points="1743,1212 1795,1241.2 1743,1270.6" stroke-width="5.6"/></g>
<g fill="#000">
<text transform="translate(357.89,91.90) scale(0.9611,1.0489)" font-size="68" font-weight="normal">1000</text>
<text transform="translate(410.98,329.79) scale(0.9741,1.0426)" font-size="68" font-weight="normal">900</text>
<text transform="translate(410.98,567.67) scale(0.9741,1.0426)" font-size="68" font-weight="normal">800</text>
<text transform="translate(410.98,805.56) scale(0.9741,1.0426)" font-size="68" font-weight="normal">700</text>
<text transform="translate(410.98,1043.44) scale(0.9741,1.0426)" font-size="68" font-weight="normal">600</text>
<text transform="translate(410.98,1281.33) scale(0.9741,1.0426)" font-size="68" font-weight="normal">500</text>
<text transform="translate(411.97,1519.21) scale(0.9651,1.0426)" font-size="68" font-weight="normal">400</text>
<text transform="translate(410.98,1757.10) scale(0.9741,1.0426)" font-size="68" font-weight="normal">300</text>
<text transform="translate(524.87,1835.90) scale(0.9759,1.0426)" font-size="68" font-weight="normal">315</text>
<text transform="translate(808.21,1835.90) scale(0.9759,1.0426)" font-size="68" font-weight="normal">325</text>
<text transform="translate(1091.54,1835.90) scale(0.9759,1.0426)" font-size="68" font-weight="normal">335</text>
<text transform="translate(1374.87,1835.90) scale(0.9759,1.0426)" font-size="68" font-weight="normal">345</text>
<text transform="translate(1658.21,1835.90) scale(0.9759,1.0426)" font-size="68" font-weight="normal">355</text>
<text transform="translate(1941.54,1835.90) scale(0.9759,1.0426)" font-size="68" font-weight="normal">365</text>
<text transform="translate(2224.87,1835.90) scale(0.9759,1.0426)" font-size="68" font-weight="normal">375</text>
<text transform="translate(2186.31,645.80) scale(1.0638,1.0250)" font-size="57" font-weight="normal">65</text>
<text transform="translate(2182.76,711.10) scale(1.0220,1.0275)" font-size="57" font-weight="normal">30</text>
<text transform="translate(2180.77,788.10) scale(1.0070,1.0375)" font-size="57" font-weight="normal">15</text>
<text transform="translate(2179.74,863.30) scale(0.9912,1.0350)" font-size="57" font-weight="normal">10</text>
<text transform="translate(2200.63,945.10) scale(1.0885,1.0325)" font-size="57" font-weight="normal">6</text>
<text transform="translate(2209.96,1054.50) scale(1.0185,1.0375)" font-size="57" font-weight="normal">3</text>
<text transform="translate(2203.29,1198.00) scale(0.6520,1.0325)" font-size="57" font-weight="normal">1</text>
<text transform="translate(2190.88,1320.80) scale(1.0111,1.0275)" font-size="57" font-weight="normal">0</text>
<text transform="translate(1207.90,1998.20) scale(1.0133,0.9855)" font-size="66" font-weight="bold">Wavelength (nm)</text>
<text transform="translate(111.07,1362.57) rotate(-90) scale(0.9932,0.9806)" font-size="67" font-weight="bold">Fluorescence  intensity (a.u.)</text>
</g>
</svg></body></html>
